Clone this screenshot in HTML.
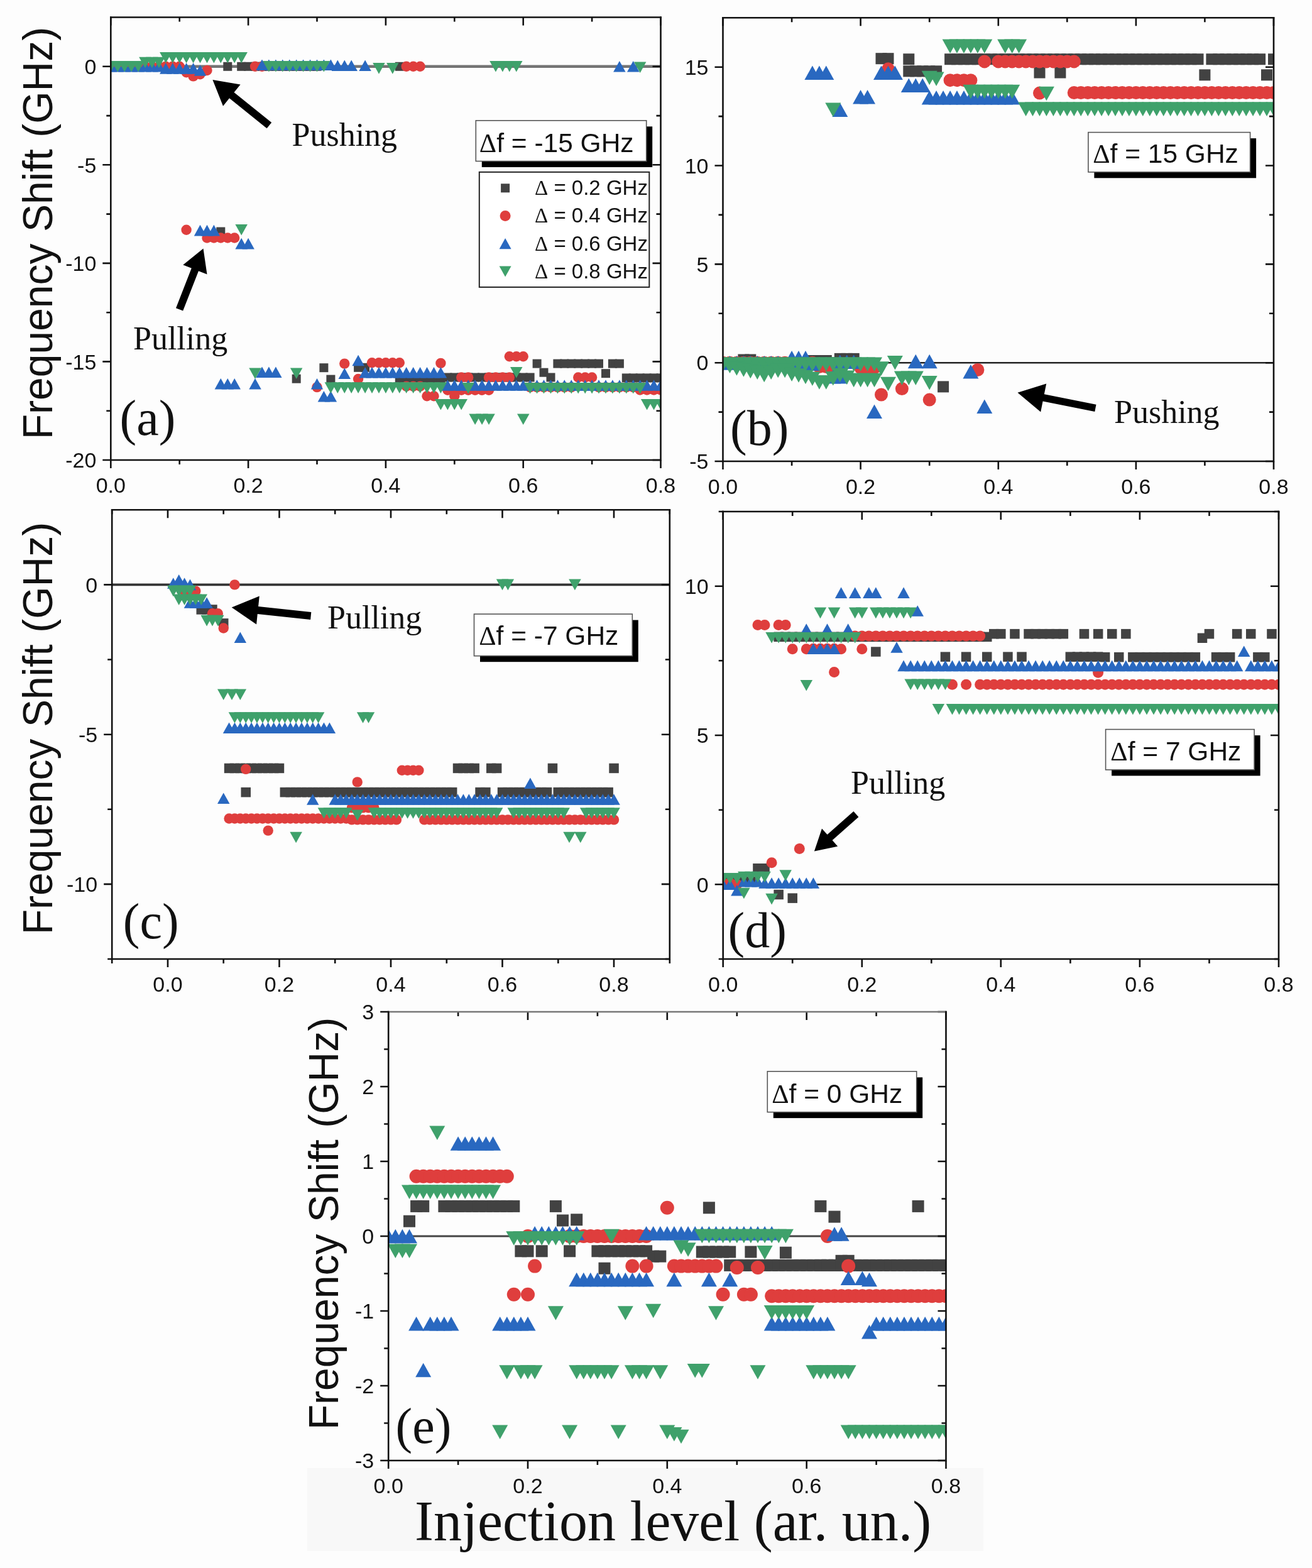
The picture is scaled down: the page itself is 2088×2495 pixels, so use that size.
<!DOCTYPE html>
<html><head><meta charset="utf-8"><style>
html,body{margin:0;padding:0;background:#fff;}
body{width:2088px;height:2495px;overflow:hidden;}
svg{display:block;}
text{font-family:'Liberation Sans', Arial, sans-serif;fill:#111;}
</style></head><body>
<svg width="2088" height="2495" viewBox="0 0 2088 2495">
<rect width="2088" height="2495" fill="#fdfdfd"/>
<g>
<line x1="176.3" y1="105.8" x2="1051.5" y2="105.8" stroke="#747474" stroke-width="4.5"/>
<clipPath id="cp1"><rect x="176.3" y="27.5" width="875.2" height="704.5"/></clipPath>
<g clip-path="url(#cp1)">
<rect x="355.3" y="98.8" width="14" height="14" fill="#424242"/>
<rect x="377.2" y="98.8" width="14" height="14" fill="#424242"/>
<rect x="388.1" y="98.8" width="14" height="14" fill="#424242"/>
<rect x="399" y="98.8" width="14" height="14" fill="#424242"/>
<rect x="410" y="98.8" width="14" height="14" fill="#424242"/>
<rect x="420.9" y="98.8" width="14" height="14" fill="#424242"/>
<rect x="431.9" y="98.8" width="14" height="14" fill="#424242"/>
<rect x="442.8" y="98.8" width="14" height="14" fill="#424242"/>
<rect x="453.7" y="98.8" width="14" height="14" fill="#424242"/>
<rect x="464.7" y="98.8" width="14" height="14" fill="#424242"/>
<rect x="475.6" y="98.8" width="14" height="14" fill="#424242"/>
<rect x="486.6" y="98.8" width="14" height="14" fill="#424242"/>
<rect x="497.5" y="98.8" width="14" height="14" fill="#424242"/>
<rect x="628.8" y="98.8" width="14" height="14" fill="#424242"/>
<rect x="344.3" y="361.5" width="14" height="14" fill="#424242"/>
<rect x="464.7" y="595.7" width="14" height="14" fill="#424242"/>
<rect x="508.4" y="578.2" width="14" height="14" fill="#424242"/>
<rect x="519.4" y="596.6" width="14" height="14" fill="#424242"/>
<rect x="563.1" y="577.8" width="14" height="14" fill="#424242"/>
<rect x="574.1" y="577.8" width="14" height="14" fill="#424242"/>
<rect x="628.8" y="598.5" width="14" height="14" fill="#424242"/>
<rect x="639.7" y="598.5" width="14" height="14" fill="#424242"/>
<rect x="650.7" y="598.5" width="14" height="14" fill="#424242"/>
<rect x="661.6" y="598.5" width="14" height="14" fill="#424242"/>
<rect x="672.5" y="598.5" width="14" height="14" fill="#424242"/>
<rect x="683.5" y="598.5" width="14" height="14" fill="#424242"/>
<rect x="694.4" y="598.5" width="14" height="14" fill="#424242"/>
<rect x="705.4" y="593.5" width="14" height="14" fill="#424242"/>
<rect x="716.3" y="593.5" width="14" height="14" fill="#424242"/>
<rect x="727.2" y="593.5" width="14" height="14" fill="#424242"/>
<rect x="738.2" y="593.5" width="14" height="14" fill="#424242"/>
<rect x="749.1" y="593.5" width="14" height="14" fill="#424242"/>
<rect x="760.1" y="593.5" width="14" height="14" fill="#424242"/>
<rect x="771" y="593.5" width="14" height="14" fill="#424242"/>
<rect x="781.9" y="593.5" width="14" height="14" fill="#424242"/>
<rect x="792.9" y="593.5" width="14" height="14" fill="#424242"/>
<rect x="803.8" y="593.5" width="14" height="14" fill="#424242"/>
<rect x="814.8" y="593.5" width="14" height="14" fill="#424242"/>
<rect x="825.7" y="593.5" width="14" height="14" fill="#424242"/>
<rect x="836.6" y="593.5" width="14" height="14" fill="#424242"/>
<rect x="847.6" y="571.6" width="14" height="14" fill="#424242"/>
<rect x="858.5" y="585.7" width="14" height="14" fill="#424242"/>
<rect x="869.5" y="593.5" width="14" height="14" fill="#424242"/>
<rect x="880.4" y="571.6" width="14" height="14" fill="#424242"/>
<rect x="891.3" y="571.6" width="14" height="14" fill="#424242"/>
<rect x="902.3" y="571.6" width="14" height="14" fill="#424242"/>
<rect x="913.2" y="571.6" width="14" height="14" fill="#424242"/>
<rect x="924.2" y="571.6" width="14" height="14" fill="#424242"/>
<rect x="935.1" y="571.6" width="14" height="14" fill="#424242"/>
<rect x="946" y="571.6" width="14" height="14" fill="#424242"/>
<rect x="957" y="587.2" width="14" height="14" fill="#424242"/>
<rect x="967.9" y="571.6" width="14" height="14" fill="#424242"/>
<rect x="978.9" y="571.6" width="14" height="14" fill="#424242"/>
<rect x="989.8" y="594.4" width="14" height="14" fill="#424242"/>
<rect x="1000.7" y="594.4" width="14" height="14" fill="#424242"/>
<rect x="1011.7" y="594.4" width="14" height="14" fill="#424242"/>
<rect x="1022.6" y="594.4" width="14" height="14" fill="#424242"/>
<rect x="1033.6" y="594.4" width="14" height="14" fill="#424242"/>
<rect x="1044.5" y="594.4" width="14" height="14" fill="#424242"/>
<circle cx="176.3" cy="105.8" r="8.2" fill="#df3e3d"/>
<circle cx="187.2" cy="105.8" r="8.2" fill="#df3e3d"/>
<circle cx="198.2" cy="105.8" r="8.2" fill="#df3e3d"/>
<circle cx="209.1" cy="105.8" r="8.2" fill="#df3e3d"/>
<circle cx="220.1" cy="105.8" r="8.2" fill="#df3e3d"/>
<circle cx="231" cy="105.8" r="8.2" fill="#df3e3d"/>
<circle cx="241.9" cy="105.8" r="8.2" fill="#df3e3d"/>
<circle cx="252.9" cy="105.8" r="8.2" fill="#df3e3d"/>
<circle cx="263.8" cy="105.8" r="8.2" fill="#df3e3d"/>
<circle cx="274.8" cy="105.8" r="8.2" fill="#df3e3d"/>
<circle cx="285.7" cy="105.8" r="8.2" fill="#df3e3d"/>
<circle cx="296.6" cy="115.2" r="8.2" fill="#df3e3d"/>
<circle cx="307.6" cy="121.4" r="8.2" fill="#df3e3d"/>
<circle cx="318.5" cy="118.3" r="8.2" fill="#df3e3d"/>
<circle cx="329.5" cy="112" r="8.2" fill="#df3e3d"/>
<circle cx="406" cy="105.8" r="8.2" fill="#df3e3d"/>
<circle cx="417" cy="105.8" r="8.2" fill="#df3e3d"/>
<circle cx="646.7" cy="105.8" r="8.2" fill="#df3e3d"/>
<circle cx="657.7" cy="105.8" r="8.2" fill="#df3e3d"/>
<circle cx="668.6" cy="105.8" r="8.2" fill="#df3e3d"/>
<circle cx="296.6" cy="365.7" r="8.2" fill="#df3e3d"/>
<circle cx="329.5" cy="378.5" r="8.2" fill="#df3e3d"/>
<circle cx="340.4" cy="378.5" r="8.2" fill="#df3e3d"/>
<circle cx="351.3" cy="378.5" r="8.2" fill="#df3e3d"/>
<circle cx="362.3" cy="378.5" r="8.2" fill="#df3e3d"/>
<circle cx="373.2" cy="378.5" r="8.2" fill="#df3e3d"/>
<circle cx="504.5" cy="616.1" r="8.2" fill="#df3e3d"/>
<circle cx="548.3" cy="578.6" r="8.2" fill="#df3e3d"/>
<circle cx="570.1" cy="603" r="8.2" fill="#df3e3d"/>
<circle cx="592" cy="577.3" r="8.2" fill="#df3e3d"/>
<circle cx="603" cy="577.3" r="8.2" fill="#df3e3d"/>
<circle cx="613.9" cy="577.3" r="8.2" fill="#df3e3d"/>
<circle cx="624.8" cy="577.3" r="8.2" fill="#df3e3d"/>
<circle cx="635.8" cy="577.3" r="8.2" fill="#df3e3d"/>
<circle cx="646.7" cy="614.6" r="8.2" fill="#df3e3d"/>
<circle cx="657.7" cy="614.6" r="8.2" fill="#df3e3d"/>
<circle cx="668.6" cy="614.6" r="8.2" fill="#df3e3d"/>
<circle cx="679.5" cy="630.2" r="8.2" fill="#df3e3d"/>
<circle cx="690.5" cy="630.2" r="8.2" fill="#df3e3d"/>
<circle cx="701.4" cy="577.9" r="8.2" fill="#df3e3d"/>
<circle cx="712.4" cy="620.8" r="8.2" fill="#df3e3d"/>
<circle cx="723.3" cy="620.8" r="8.2" fill="#df3e3d"/>
<circle cx="734.2" cy="620.8" r="8.2" fill="#df3e3d"/>
<circle cx="745.2" cy="620.8" r="8.2" fill="#df3e3d"/>
<circle cx="756.1" cy="620.8" r="8.2" fill="#df3e3d"/>
<circle cx="767.1" cy="620.8" r="8.2" fill="#df3e3d"/>
<circle cx="778" cy="620.8" r="8.2" fill="#df3e3d"/>
<circle cx="723.3" cy="630.2" r="8.2" fill="#df3e3d"/>
<circle cx="734.2" cy="600.5" r="8.2" fill="#df3e3d"/>
<circle cx="745.2" cy="600.5" r="8.2" fill="#df3e3d"/>
<circle cx="778" cy="600.5" r="8.2" fill="#df3e3d"/>
<circle cx="788.9" cy="600.5" r="8.2" fill="#df3e3d"/>
<circle cx="799.9" cy="600.5" r="8.2" fill="#df3e3d"/>
<circle cx="810.8" cy="600.5" r="8.2" fill="#df3e3d"/>
<circle cx="810.8" cy="567.3" r="8.2" fill="#df3e3d"/>
<circle cx="821.8" cy="567.3" r="8.2" fill="#df3e3d"/>
<circle cx="832.7" cy="567.3" r="8.2" fill="#df3e3d"/>
<circle cx="843.6" cy="616.1" r="8.2" fill="#df3e3d"/>
<circle cx="854.6" cy="616.1" r="8.2" fill="#df3e3d"/>
<circle cx="865.5" cy="616.1" r="8.2" fill="#df3e3d"/>
<circle cx="876.5" cy="616.1" r="8.2" fill="#df3e3d"/>
<circle cx="887.4" cy="616.1" r="8.2" fill="#df3e3d"/>
<circle cx="898.3" cy="616.1" r="8.2" fill="#df3e3d"/>
<circle cx="909.3" cy="616.1" r="8.2" fill="#df3e3d"/>
<circle cx="920.2" cy="600.5" r="8.2" fill="#df3e3d"/>
<circle cx="931.2" cy="600.5" r="8.2" fill="#df3e3d"/>
<circle cx="942.1" cy="600.5" r="8.2" fill="#df3e3d"/>
<circle cx="953" cy="616.1" r="8.2" fill="#df3e3d"/>
<circle cx="964" cy="616.1" r="8.2" fill="#df3e3d"/>
<circle cx="974.9" cy="616.1" r="8.2" fill="#df3e3d"/>
<circle cx="985.9" cy="616.1" r="8.2" fill="#df3e3d"/>
<circle cx="996.8" cy="616.1" r="8.2" fill="#df3e3d"/>
<circle cx="1007.7" cy="616.1" r="8.2" fill="#df3e3d"/>
<circle cx="1018.7" cy="620.5" r="8.2" fill="#df3e3d"/>
<circle cx="1029.6" cy="620.5" r="8.2" fill="#df3e3d"/>
<circle cx="1040.6" cy="620.5" r="8.2" fill="#df3e3d"/>
<circle cx="1051.5" cy="620.5" r="8.2" fill="#df3e3d"/>
<path d="M176.3 97L186.1 114.6L166.6 114.6Z" fill="#2968c0"/>
<path d="M187.2 97L197 114.6L177.5 114.6Z" fill="#2968c0"/>
<path d="M198.2 97L207.9 114.6L188.4 114.6Z" fill="#2968c0"/>
<path d="M209.1 97L218.9 114.6L199.4 114.6Z" fill="#2968c0"/>
<path d="M220.1 97L229.8 114.6L210.3 114.6Z" fill="#2968c0"/>
<path d="M231 97L240.8 114.6L221.2 114.6Z" fill="#2968c0"/>
<path d="M241.9 97L251.7 114.6L232.2 114.6Z" fill="#2968c0"/>
<path d="M252.9 97L262.6 114.6L243.1 114.6Z" fill="#2968c0"/>
<path d="M263.8 100.1L273.6 117.7L254.1 117.7Z" fill="#2968c0"/>
<path d="M274.8 100.1L284.5 117.7L265 117.7Z" fill="#2968c0"/>
<path d="M285.7 100.1L295.5 117.7L276 117.7Z" fill="#2968c0"/>
<path d="M296.6 100.1L306.4 117.7L286.9 117.7Z" fill="#2968c0"/>
<path d="M307.6 100.1L317.3 117.7L297.8 117.7Z" fill="#2968c0"/>
<path d="M318.5 103.3L328.3 120.8L308.8 120.8Z" fill="#2968c0"/>
<path d="M417 94.5L426.7 112L407.2 112Z" fill="#2968c0"/>
<path d="M427.9 94.5L437.7 112L418.2 112Z" fill="#2968c0"/>
<path d="M438.9 94.5L448.6 112L429.1 112Z" fill="#2968c0"/>
<path d="M449.8 94.5L459.6 112L440.1 112Z" fill="#2968c0"/>
<path d="M460.7 94.5L470.5 112L451 112Z" fill="#2968c0"/>
<path d="M471.7 94.5L481.4 112L461.9 112Z" fill="#2968c0"/>
<path d="M482.6 94.5L492.4 112L472.9 112Z" fill="#2968c0"/>
<path d="M493.6 94.5L503.3 112L483.8 112Z" fill="#2968c0"/>
<path d="M504.5 94.5L514.2 112L494.8 112Z" fill="#2968c0"/>
<path d="M515.4 94.5L525.2 112L505.7 112Z" fill="#2968c0"/>
<path d="M526.4 94.5L536.1 112L516.6 112Z" fill="#2968c0"/>
<path d="M537.3 95.4L547.1 113L527.6 113Z" fill="#2968c0"/>
<path d="M548.3 95.4L558 113L538.5 113Z" fill="#2968c0"/>
<path d="M559.2 95.4L569 113L549.5 113Z" fill="#2968c0"/>
<path d="M581.1 95.4L590.8 113L571.3 113Z" fill="#2968c0"/>
<path d="M985.9 97L995.6 114.6L976.1 114.6Z" fill="#2968c0"/>
<path d="M1007.7 97L1017.5 114.6L998 114.6Z" fill="#2968c0"/>
<path d="M318.5 357.8L328.3 375.4L308.8 375.4Z" fill="#2968c0"/>
<path d="M329.5 357.8L339.2 375.4L319.7 375.4Z" fill="#2968c0"/>
<path d="M340.4 357.8L350.1 375.4L330.6 375.4Z" fill="#2968c0"/>
<path d="M384.2 378.8L393.9 396.4L374.4 396.4Z" fill="#2968c0"/>
<path d="M395.1 378.8L404.9 396.4L385.4 396.4Z" fill="#2968c0"/>
<path d="M351.3 602.1L361.1 619.6L341.6 619.6Z" fill="#2968c0"/>
<path d="M362.3 602.1L372 619.6L352.5 619.6Z" fill="#2968c0"/>
<path d="M373.2 602.1L383 619.6L363.5 619.6Z" fill="#2968c0"/>
<path d="M406 602.1L415.8 619.6L396.3 619.6Z" fill="#2968c0"/>
<path d="M417 583.6L426.7 601.1L407.2 601.1Z" fill="#2968c0"/>
<path d="M427.9 583.6L437.7 601.1L418.2 601.1Z" fill="#2968c0"/>
<path d="M438.9 583.6L448.6 601.1L429.1 601.1Z" fill="#2968c0"/>
<path d="M504.5 602.1L514.2 619.6L494.8 619.6Z" fill="#2968c0"/>
<path d="M515.4 622.1L525.2 639.6L505.7 639.6Z" fill="#2968c0"/>
<path d="M526.4 622.1L536.1 639.6L516.6 639.6Z" fill="#2968c0"/>
<path d="M548.3 585.5L558 603L538.5 603Z" fill="#2968c0"/>
<path d="M570.1 564.8L579.9 582.3L560.4 582.3Z" fill="#2968c0"/>
<path d="M581.1 583.9L590.8 601.4L571.3 601.4Z" fill="#2968c0"/>
<path d="M592 583.9L601.8 601.4L582.3 601.4Z" fill="#2968c0"/>
<path d="M603 583.9L612.7 601.4L593.2 601.4Z" fill="#2968c0"/>
<path d="M613.9 583.9L623.7 601.4L604.2 601.4Z" fill="#2968c0"/>
<path d="M624.8 583.9L634.6 601.4L615.1 601.4Z" fill="#2968c0"/>
<path d="M635.8 583.9L645.5 601.4L626 601.4Z" fill="#2968c0"/>
<path d="M646.7 583.9L656.5 601.4L637 601.4Z" fill="#2968c0"/>
<path d="M657.7 583.9L667.4 601.4L647.9 601.4Z" fill="#2968c0"/>
<path d="M668.6 583.9L678.4 601.4L658.9 601.4Z" fill="#2968c0"/>
<path d="M679.5 583.9L689.3 601.4L669.8 601.4Z" fill="#2968c0"/>
<path d="M690.5 583.9L700.2 601.4L680.7 601.4Z" fill="#2968c0"/>
<path d="M701.4 583.9L711.2 601.4L691.7 601.4Z" fill="#2968c0"/>
<path d="M712.4 604.2L722.1 621.8L702.6 621.8Z" fill="#2968c0"/>
<path d="M723.3 604.2L733 621.8L713.5 621.8Z" fill="#2968c0"/>
<path d="M734.2 604.2L744 621.8L724.5 621.8Z" fill="#2968c0"/>
<path d="M745.2 604.2L754.9 621.8L735.4 621.8Z" fill="#2968c0"/>
<path d="M756.1 604.2L765.9 621.8L746.4 621.8Z" fill="#2968c0"/>
<path d="M767.1 604.2L776.8 621.8L757.3 621.8Z" fill="#2968c0"/>
<path d="M778 604.2L787.8 621.8L768.2 621.8Z" fill="#2968c0"/>
<path d="M788.9 604.2L798.7 621.8L779.2 621.8Z" fill="#2968c0"/>
<path d="M799.9 604.2L809.6 621.8L790.1 621.8Z" fill="#2968c0"/>
<path d="M810.8 604.2L820.6 621.8L801.1 621.8Z" fill="#2968c0"/>
<path d="M821.8 604.2L831.5 621.8L812 621.8Z" fill="#2968c0"/>
<path d="M832.7 604.2L842.5 621.8L823 621.8Z" fill="#2968c0"/>
<path d="M843.6 604.2L853.4 621.8L833.9 621.8Z" fill="#2968c0"/>
<path d="M854.6 604.2L864.3 621.8L844.8 621.8Z" fill="#2968c0"/>
<path d="M865.5 604.2L875.3 621.8L855.8 621.8Z" fill="#2968c0"/>
<path d="M876.5 604.2L886.2 621.8L866.7 621.8Z" fill="#2968c0"/>
<path d="M887.4 604.2L897.2 621.8L877.7 621.8Z" fill="#2968c0"/>
<path d="M898.3 604.2L908.1 621.8L888.6 621.8Z" fill="#2968c0"/>
<path d="M909.3 604.2L919 621.8L899.5 621.8Z" fill="#2968c0"/>
<path d="M920.2 604.2L930 621.8L910.5 621.8Z" fill="#2968c0"/>
<path d="M931.2 604.2L940.9 621.8L921.4 621.8Z" fill="#2968c0"/>
<path d="M942.1 604.2L951.8 621.8L932.3 621.8Z" fill="#2968c0"/>
<path d="M953 604.2L962.8 621.8L943.3 621.8Z" fill="#2968c0"/>
<path d="M964 604.2L973.7 621.8L954.2 621.8Z" fill="#2968c0"/>
<path d="M974.9 604.2L984.7 621.8L965.2 621.8Z" fill="#2968c0"/>
<path d="M985.9 604.2L995.6 621.8L976.1 621.8Z" fill="#2968c0"/>
<path d="M996.8 604.2L1006.5 621.8L987 621.8Z" fill="#2968c0"/>
<path d="M1007.7 604.2L1017.5 621.8L998 621.8Z" fill="#2968c0"/>
<path d="M1018.7 604.2L1028.4 621.8L1008.9 621.8Z" fill="#2968c0"/>
<path d="M1029.6 604.2L1039.4 621.8L1019.9 621.8Z" fill="#2968c0"/>
<path d="M1040.6 604.2L1050.3 621.8L1030.8 621.8Z" fill="#2968c0"/>
<path d="M1051.5 604.2L1061.2 621.8L1041.8 621.8Z" fill="#2968c0"/>
<path d="M166.6 97L186.1 97L176.3 114.6Z" fill="#3fa16b"/>
<path d="M177.5 97L197 97L187.2 114.6Z" fill="#3fa16b"/>
<path d="M188.4 97L207.9 97L198.2 114.6Z" fill="#3fa16b"/>
<path d="M199.4 97L218.9 97L209.1 114.6Z" fill="#3fa16b"/>
<path d="M210.3 97L229.8 97L220.1 114.6Z" fill="#3fa16b"/>
<path d="M221.2 90.7L240.8 90.7L231 108.3Z" fill="#3fa16b"/>
<path d="M232.2 90.7L251.7 90.7L241.9 108.3Z" fill="#3fa16b"/>
<path d="M243.1 90.7L262.6 90.7L252.9 108.3Z" fill="#3fa16b"/>
<path d="M254.1 82.9L273.6 82.9L263.8 100.5Z" fill="#3fa16b"/>
<path d="M265 82.9L284.5 82.9L274.8 100.5Z" fill="#3fa16b"/>
<path d="M276 82.9L295.5 82.9L285.7 100.5Z" fill="#3fa16b"/>
<path d="M286.9 82.9L306.4 82.9L296.6 100.5Z" fill="#3fa16b"/>
<path d="M297.8 82.9L317.3 82.9L307.6 100.5Z" fill="#3fa16b"/>
<path d="M308.8 82.9L328.3 82.9L318.5 100.5Z" fill="#3fa16b"/>
<path d="M319.7 82.9L339.2 82.9L329.5 100.5Z" fill="#3fa16b"/>
<path d="M330.6 82.9L350.1 82.9L340.4 100.5Z" fill="#3fa16b"/>
<path d="M341.6 82.9L361.1 82.9L351.3 100.5Z" fill="#3fa16b"/>
<path d="M352.5 82.9L372 82.9L362.3 100.5Z" fill="#3fa16b"/>
<path d="M363.5 82.9L383 82.9L373.2 100.5Z" fill="#3fa16b"/>
<path d="M374.4 82.9L393.9 82.9L384.2 100.5Z" fill="#3fa16b"/>
<path d="M418.2 97L437.7 97L427.9 114.6Z" fill="#3fa16b"/>
<path d="M429.1 97L448.6 97L438.9 114.6Z" fill="#3fa16b"/>
<path d="M440.1 97L459.6 97L449.8 114.6Z" fill="#3fa16b"/>
<path d="M451 97L470.5 97L460.7 114.6Z" fill="#3fa16b"/>
<path d="M461.9 97L481.4 97L471.7 114.6Z" fill="#3fa16b"/>
<path d="M472.9 97L492.4 97L482.6 114.6Z" fill="#3fa16b"/>
<path d="M483.8 97L503.3 97L493.6 114.6Z" fill="#3fa16b"/>
<path d="M494.8 97L514.2 97L504.5 114.6Z" fill="#3fa16b"/>
<path d="M505.7 97L525.2 97L515.4 114.6Z" fill="#3fa16b"/>
<path d="M593.2 100.1L612.7 100.1L603 117.7Z" fill="#3fa16b"/>
<path d="M615.1 100.1L634.6 100.1L624.8 117.7Z" fill="#3fa16b"/>
<path d="M779.2 97L798.7 97L788.9 114.6Z" fill="#3fa16b"/>
<path d="M790.1 97L809.6 97L799.9 114.6Z" fill="#3fa16b"/>
<path d="M801.1 97L820.6 97L810.8 114.6Z" fill="#3fa16b"/>
<path d="M812 97L831.5 97L821.8 114.6Z" fill="#3fa16b"/>
<path d="M1008.9 98.6L1028.4 98.6L1018.7 116.1Z" fill="#3fa16b"/>
<path d="M374.4 356.9L393.9 356.9L384.2 374.4Z" fill="#3fa16b"/>
<path d="M396.3 585.5L415.8 585.5L406 603Z" fill="#3fa16b"/>
<path d="M461.9 585.5L481.4 585.5L471.7 603Z" fill="#3fa16b"/>
<path d="M516.6 608.3L536.1 608.3L526.4 625.9Z" fill="#3fa16b"/>
<path d="M527.6 608.3L547.1 608.3L537.3 625.9Z" fill="#3fa16b"/>
<path d="M538.5 608.3L558 608.3L548.3 625.9Z" fill="#3fa16b"/>
<path d="M549.5 608.3L569 608.3L559.2 625.9Z" fill="#3fa16b"/>
<path d="M560.4 608.3L579.9 608.3L570.1 625.9Z" fill="#3fa16b"/>
<path d="M571.3 608.3L590.8 608.3L581.1 625.9Z" fill="#3fa16b"/>
<path d="M582.3 608.3L601.8 608.3L592 625.9Z" fill="#3fa16b"/>
<path d="M593.2 608.3L612.7 608.3L603 625.9Z" fill="#3fa16b"/>
<path d="M604.2 608.3L623.7 608.3L613.9 625.9Z" fill="#3fa16b"/>
<path d="M615.1 608.3L634.6 608.3L624.8 625.9Z" fill="#3fa16b"/>
<path d="M626 608.3L645.5 608.3L635.8 625.9Z" fill="#3fa16b"/>
<path d="M637 608.3L656.5 608.3L646.7 625.9Z" fill="#3fa16b"/>
<path d="M647.9 608.3L667.4 608.3L657.7 625.9Z" fill="#3fa16b"/>
<path d="M658.9 608.3L678.4 608.3L668.6 625.9Z" fill="#3fa16b"/>
<path d="M669.8 608.3L689.3 608.3L679.5 625.9Z" fill="#3fa16b"/>
<path d="M680.7 608.3L700.2 608.3L690.5 625.9Z" fill="#3fa16b"/>
<path d="M691.7 608.3L711.2 608.3L701.4 625.9Z" fill="#3fa16b"/>
<path d="M691.7 634.9L711.2 634.9L701.4 652.5Z" fill="#3fa16b"/>
<path d="M702.6 634.9L722.1 634.9L712.4 652.5Z" fill="#3fa16b"/>
<path d="M713.5 634.9L733 634.9L723.3 652.5Z" fill="#3fa16b"/>
<path d="M724.5 634.9L744 634.9L734.2 652.5Z" fill="#3fa16b"/>
<path d="M735.4 608.9L754.9 608.9L745.2 626.5Z" fill="#3fa16b"/>
<path d="M746.4 658.4L765.9 658.4L756.1 676Z" fill="#3fa16b"/>
<path d="M757.3 658.4L776.8 658.4L767.1 676Z" fill="#3fa16b"/>
<path d="M768.2 658.4L787.8 658.4L778 676Z" fill="#3fa16b"/>
<path d="M812 583.9L831.5 583.9L821.8 601.4Z" fill="#3fa16b"/>
<path d="M823 658.4L842.5 658.4L832.7 676Z" fill="#3fa16b"/>
<path d="M833.9 608.9L853.4 608.9L843.6 626.5Z" fill="#3fa16b"/>
<path d="M844.8 608.9L864.3 608.9L854.6 626.5Z" fill="#3fa16b"/>
<path d="M855.8 608.9L875.3 608.9L865.5 626.5Z" fill="#3fa16b"/>
<path d="M866.7 608.9L886.2 608.9L876.5 626.5Z" fill="#3fa16b"/>
<path d="M877.7 608.9L897.2 608.9L887.4 626.5Z" fill="#3fa16b"/>
<path d="M888.6 608.9L908.1 608.9L898.3 626.5Z" fill="#3fa16b"/>
<path d="M899.5 608.9L919 608.9L909.3 626.5Z" fill="#3fa16b"/>
<path d="M910.5 608.9L930 608.9L920.2 626.5Z" fill="#3fa16b"/>
<path d="M921.4 608.9L940.9 608.9L931.2 626.5Z" fill="#3fa16b"/>
<path d="M932.3 608.9L951.8 608.9L942.1 626.5Z" fill="#3fa16b"/>
<path d="M943.3 608.9L962.8 608.9L953 626.5Z" fill="#3fa16b"/>
<path d="M954.2 608.9L973.7 608.9L964 626.5Z" fill="#3fa16b"/>
<path d="M965.2 608.9L984.7 608.9L974.9 626.5Z" fill="#3fa16b"/>
<path d="M976.1 608.9L995.6 608.9L985.9 626.5Z" fill="#3fa16b"/>
<path d="M987 608.9L1006.5 608.9L996.8 626.5Z" fill="#3fa16b"/>
<path d="M998 608.9L1017.5 608.9L1007.7 626.5Z" fill="#3fa16b"/>
<path d="M1008.9 608.9L1028.4 608.9L1018.7 626.5Z" fill="#3fa16b"/>
<path d="M1019.9 634.9L1039.4 634.9L1029.6 652.5Z" fill="#3fa16b"/>
<path d="M1030.8 634.9L1050.3 634.9L1040.6 652.5Z" fill="#3fa16b"/>
<path d="M1041.8 634.9L1061.2 634.9L1051.5 652.5Z" fill="#3fa16b"/>
</g>
<path d="M176.3 732v13M176.3 27.5v13M395.1 732v13M395.1 27.5v13M613.9 732v13M613.9 27.5v13M832.7 732v13M832.7 27.5v13M1051.5 732v13M1051.5 27.5v13M285.7 732v7M285.7 27.5v7M504.5 732v7M504.5 27.5v7M723.3 732v7M723.3 27.5v7M942.1 732v7M942.1 27.5v7M176.3 732h-13M1051.5 732h-13M176.3 575.4h-13M1051.5 575.4h-13M176.3 418.9h-13M1051.5 418.9h-13M176.3 262.3h-13M1051.5 262.3h-13M176.3 105.8h-13M1051.5 105.8h-13M176.3 653.7h-7M1051.5 653.7h-7M176.3 497.2h-7M1051.5 497.2h-7M176.3 340.6h-7M1051.5 340.6h-7M176.3 184.1h-7M1051.5 184.1h-7" stroke="#111" stroke-width="2.6" fill="none"/>
<path d="M176.3 27.5H1051.5" stroke="#111" stroke-width="2.6" fill="none" stroke-linecap="square"/>
<path d="M176.3 27.5V732H1051.5V27.5" stroke="#111" stroke-width="2.6" fill="none" stroke-linecap="square"/>
<text x="176.3" y="784" text-anchor="middle" font-size="34">0.0</text>
<text x="395.1" y="784" text-anchor="middle" font-size="34">0.2</text>
<text x="613.9" y="784" text-anchor="middle" font-size="34">0.4</text>
<text x="832.7" y="784" text-anchor="middle" font-size="34">0.6</text>
<text x="1051.5" y="784" text-anchor="middle" font-size="34">0.8</text>
<text x="153.3" y="117.9" text-anchor="end" font-size="34">0</text>
<text x="153.3" y="274.5" text-anchor="end" font-size="34">-5</text>
<text x="153.3" y="431.1" text-anchor="end" font-size="34">-10</text>
<text x="153.3" y="587.6" text-anchor="end" font-size="34">-15</text>
<text x="153.3" y="744.2" text-anchor="end" font-size="34">-20</text>
<text transform="translate(82.5 371) rotate(-90)" text-anchor="middle" font-size="66">Frequency Shift (GHz)</text>
<rect x="766.8" y="201.3" width="271.4" height="64.7" fill="#000"/>
<rect x="757.3" y="191.8" width="271.4" height="64.7" fill="#fff" stroke="#555" stroke-width="1.6"/>
<text x="762.8" y="242" font-size="42.5"><tspan style="font-family:'Liberation Serif', 'Times New Roman', serif">Δ</tspan>f = -15 GHz</text>
<rect x="762.8" y="273.8" width="270.5" height="183.1" fill="#fff" stroke="#222" stroke-width="2"/>
<rect x="797.1" y="292.3" width="14" height="14" fill="#424242"/>
<text x="851" y="310.3" font-size="33"><tspan style="font-family:'Liberation Serif', 'Times New Roman', serif">Δ</tspan> = 0.2 GHz</text>
<circle cx="804.1" cy="343.4" r="8.5" fill="#df3e3d"/>
<text x="851" y="354.4" font-size="33"><tspan style="font-family:'Liberation Serif', 'Times New Roman', serif">Δ</tspan> = 0.4 GHz</text>
<path d="M804.1 379.1L813.6 396.2L794.6 396.2Z" fill="#2968c0"/>
<text x="851" y="398.6" font-size="33"><tspan style="font-family:'Liberation Serif', 'Times New Roman', serif">Δ</tspan> = 0.6 GHz</text>
<path d="M794.6 423.4L813.6 423.4L804.1 440.6Z" fill="#3fa16b"/>
<text x="851" y="443" font-size="33"><tspan style="font-family:'Liberation Serif', 'Times New Roman', serif">Δ</tspan> = 0.8 GHz</text>
<path d="M338.4 127.1L355 168.7L365 156.2L424.6 204.3L432.2 194.9L372.5 146.9L382.6 134.4Z" fill="#000"/>
<path d="M323.5 395.5L291.3 421.6L304.8 426.8L280 490.2L291.2 494.6L316 431.2L329.5 436.5Z" fill="#000"/>
<text x="464.5" y="231.6" font-size="52" style="font-family:'Liberation Serif', 'Times New Roman', serif">Pushing</text>
<text x="212" y="555.9" font-size="52" style="font-family:'Liberation Serif', 'Times New Roman', serif">Pulling</text>
<text x="190.5" y="692" font-size="80" style="font-family:'Liberation Serif', 'Times New Roman', serif">(a)</text>
</g>
<line x1="1150.5" y1="577.2" x2="2027" y2="577.2" stroke="#222" stroke-width="2.6"/>
<clipPath id="cp2"><rect x="1150.5" y="28.3" width="876.5" height="705.7"/></clipPath>
<g clip-path="url(#cp2)">
<rect x="1141.5" y="568.2" width="18" height="18" fill="#424242"/>
<rect x="1152.5" y="568.2" width="18" height="18" fill="#424242"/>
<rect x="1163.4" y="568.2" width="18" height="18" fill="#424242"/>
<rect x="1174.4" y="568.2" width="18" height="18" fill="#424242"/>
<rect x="1185.3" y="568.2" width="18" height="18" fill="#424242"/>
<rect x="1196.3" y="568.2" width="18" height="18" fill="#424242"/>
<rect x="1207.2" y="568.2" width="18" height="18" fill="#424242"/>
<rect x="1218.2" y="568.2" width="18" height="18" fill="#424242"/>
<rect x="1229.2" y="568.2" width="18" height="18" fill="#424242"/>
<rect x="1240.1" y="568.2" width="18" height="18" fill="#424242"/>
<rect x="1251.1" y="568.2" width="18" height="18" fill="#424242"/>
<rect x="1262" y="568.2" width="18" height="18" fill="#424242"/>
<rect x="1273" y="568.2" width="18" height="18" fill="#424242"/>
<rect x="1174.4" y="563.5" width="18" height="18" fill="#424242"/>
<rect x="1185.3" y="563.5" width="18" height="18" fill="#424242"/>
<rect x="1283.9" y="565" width="18" height="18" fill="#424242"/>
<rect x="1294.9" y="565" width="18" height="18" fill="#424242"/>
<rect x="1305.8" y="565" width="18" height="18" fill="#424242"/>
<rect x="1305.8" y="568.2" width="18" height="18" fill="#424242"/>
<rect x="1316.8" y="568.2" width="18" height="18" fill="#424242"/>
<rect x="1327.8" y="568.2" width="18" height="18" fill="#424242"/>
<rect x="1327.8" y="561.9" width="18" height="18" fill="#424242"/>
<rect x="1338.7" y="561.9" width="18" height="18" fill="#424242"/>
<rect x="1349.7" y="561.9" width="18" height="18" fill="#424242"/>
<rect x="1492.1" y="606.4" width="18" height="18" fill="#424242"/>
<rect x="1393.5" y="84.2" width="18" height="18" fill="#424242"/>
<rect x="1404.5" y="84.2" width="18" height="18" fill="#424242"/>
<rect x="1437.3" y="85.2" width="18" height="18" fill="#424242"/>
<rect x="1437.3" y="104.3" width="18" height="18" fill="#424242"/>
<rect x="1448.3" y="104.3" width="18" height="18" fill="#424242"/>
<rect x="1459.2" y="104.3" width="18" height="18" fill="#424242"/>
<rect x="1470.2" y="104.3" width="18" height="18" fill="#424242"/>
<rect x="1481.1" y="104.3" width="18" height="18" fill="#424242"/>
<rect x="1503.1" y="85.2" width="18" height="18" fill="#424242"/>
<rect x="1514" y="85.2" width="18" height="18" fill="#424242"/>
<rect x="1525" y="85.2" width="18" height="18" fill="#424242"/>
<rect x="1535.9" y="85.2" width="18" height="18" fill="#424242"/>
<rect x="1546.9" y="85.2" width="18" height="18" fill="#424242"/>
<rect x="1557.8" y="85.2" width="18" height="18" fill="#424242"/>
<rect x="1568.8" y="85.2" width="18" height="18" fill="#424242"/>
<rect x="1579.8" y="85.2" width="18" height="18" fill="#424242"/>
<rect x="1590.7" y="85.2" width="18" height="18" fill="#424242"/>
<rect x="1601.7" y="85.2" width="18" height="18" fill="#424242"/>
<rect x="1612.6" y="85.2" width="18" height="18" fill="#424242"/>
<rect x="1623.6" y="85.2" width="18" height="18" fill="#424242"/>
<rect x="1634.5" y="85.2" width="18" height="18" fill="#424242"/>
<rect x="1645.5" y="85.2" width="18" height="18" fill="#424242"/>
<rect x="1656.4" y="85.2" width="18" height="18" fill="#424242"/>
<rect x="1667.4" y="85.2" width="18" height="18" fill="#424242"/>
<rect x="1678.4" y="85.2" width="18" height="18" fill="#424242"/>
<rect x="1689.3" y="85.2" width="18" height="18" fill="#424242"/>
<rect x="1700.3" y="85.2" width="18" height="18" fill="#424242"/>
<rect x="1711.2" y="85.2" width="18" height="18" fill="#424242"/>
<rect x="1722.2" y="85.2" width="18" height="18" fill="#424242"/>
<rect x="1733.1" y="85.2" width="18" height="18" fill="#424242"/>
<rect x="1744.1" y="85.2" width="18" height="18" fill="#424242"/>
<rect x="1755.1" y="85.2" width="18" height="18" fill="#424242"/>
<rect x="1766" y="85.2" width="18" height="18" fill="#424242"/>
<rect x="1777" y="85.2" width="18" height="18" fill="#424242"/>
<rect x="1787.9" y="85.2" width="18" height="18" fill="#424242"/>
<rect x="1798.9" y="85.2" width="18" height="18" fill="#424242"/>
<rect x="1809.8" y="85.2" width="18" height="18" fill="#424242"/>
<rect x="1820.8" y="85.2" width="18" height="18" fill="#424242"/>
<rect x="1831.7" y="85.2" width="18" height="18" fill="#424242"/>
<rect x="1842.7" y="85.2" width="18" height="18" fill="#424242"/>
<rect x="1853.7" y="85.2" width="18" height="18" fill="#424242"/>
<rect x="1864.6" y="85.2" width="18" height="18" fill="#424242"/>
<rect x="1875.6" y="85.2" width="18" height="18" fill="#424242"/>
<rect x="1886.5" y="85.2" width="18" height="18" fill="#424242"/>
<rect x="1897.5" y="85.2" width="18" height="18" fill="#424242"/>
<rect x="1919.4" y="85.2" width="18" height="18" fill="#424242"/>
<rect x="1930.3" y="85.2" width="18" height="18" fill="#424242"/>
<rect x="1941.3" y="85.2" width="18" height="18" fill="#424242"/>
<rect x="1952.3" y="85.2" width="18" height="18" fill="#424242"/>
<rect x="1963.2" y="85.2" width="18" height="18" fill="#424242"/>
<rect x="1974.2" y="85.2" width="18" height="18" fill="#424242"/>
<rect x="1985.1" y="85.2" width="18" height="18" fill="#424242"/>
<rect x="1996.1" y="85.2" width="18" height="18" fill="#424242"/>
<rect x="2018" y="85.2" width="18" height="18" fill="#424242"/>
<rect x="1645.5" y="106.5" width="18" height="18" fill="#424242"/>
<rect x="1678.4" y="106.5" width="18" height="18" fill="#424242"/>
<rect x="1908.4" y="110.3" width="18" height="18" fill="#424242"/>
<rect x="2007" y="110.3" width="18" height="18" fill="#424242"/>
<circle cx="1150.5" cy="577.2" r="10.5" fill="#df3e3d"/>
<circle cx="1161.5" cy="577.2" r="10.5" fill="#df3e3d"/>
<circle cx="1172.4" cy="577.2" r="10.5" fill="#df3e3d"/>
<circle cx="1183.4" cy="577.2" r="10.5" fill="#df3e3d"/>
<circle cx="1194.3" cy="577.2" r="10.5" fill="#df3e3d"/>
<circle cx="1205.3" cy="577.2" r="10.5" fill="#df3e3d"/>
<circle cx="1216.2" cy="577.2" r="10.5" fill="#df3e3d"/>
<circle cx="1227.2" cy="577.2" r="10.5" fill="#df3e3d"/>
<circle cx="1238.2" cy="577.2" r="10.5" fill="#df3e3d"/>
<circle cx="1249.1" cy="577.2" r="10.5" fill="#df3e3d"/>
<circle cx="1260.1" cy="577.2" r="10.5" fill="#df3e3d"/>
<circle cx="1271" cy="577.2" r="10.5" fill="#df3e3d"/>
<circle cx="1282" cy="577.2" r="10.5" fill="#df3e3d"/>
<circle cx="1292.9" cy="577.2" r="10.5" fill="#df3e3d"/>
<circle cx="1303.9" cy="583.5" r="10.5" fill="#df3e3d"/>
<circle cx="1314.8" cy="583.5" r="10.5" fill="#df3e3d"/>
<circle cx="1325.8" cy="583.5" r="10.5" fill="#df3e3d"/>
<circle cx="1369.6" cy="585" r="10.5" fill="#df3e3d"/>
<circle cx="1380.6" cy="585" r="10.5" fill="#df3e3d"/>
<circle cx="1391.5" cy="585" r="10.5" fill="#df3e3d"/>
<circle cx="1402.5" cy="628" r="10.5" fill="#df3e3d"/>
<circle cx="1435.4" cy="618.6" r="10.5" fill="#df3e3d"/>
<circle cx="1479.2" cy="636.1" r="10.5" fill="#df3e3d"/>
<circle cx="1555.9" cy="588.5" r="10.5" fill="#df3e3d"/>
<circle cx="1413.5" cy="109.8" r="10.5" fill="#df3e3d"/>
<circle cx="1512.1" cy="127.7" r="10.5" fill="#df3e3d"/>
<circle cx="1523" cy="127.7" r="10.5" fill="#df3e3d"/>
<circle cx="1534" cy="127.7" r="10.5" fill="#df3e3d"/>
<circle cx="1544.9" cy="127.7" r="10.5" fill="#df3e3d"/>
<circle cx="1566.8" cy="97.9" r="10.5" fill="#df3e3d"/>
<circle cx="1588.8" cy="97.9" r="10.5" fill="#df3e3d"/>
<circle cx="1599.7" cy="97.9" r="10.5" fill="#df3e3d"/>
<circle cx="1610.7" cy="97.9" r="10.5" fill="#df3e3d"/>
<circle cx="1621.6" cy="97.9" r="10.5" fill="#df3e3d"/>
<circle cx="1632.6" cy="97.9" r="10.5" fill="#df3e3d"/>
<circle cx="1643.5" cy="97.9" r="10.5" fill="#df3e3d"/>
<circle cx="1654.5" cy="97.9" r="10.5" fill="#df3e3d"/>
<circle cx="1665.4" cy="97.9" r="10.5" fill="#df3e3d"/>
<circle cx="1676.4" cy="97.9" r="10.5" fill="#df3e3d"/>
<circle cx="1687.4" cy="97.9" r="10.5" fill="#df3e3d"/>
<circle cx="1698.3" cy="97.9" r="10.5" fill="#df3e3d"/>
<circle cx="1709.3" cy="97.9" r="10.5" fill="#df3e3d"/>
<circle cx="1654.5" cy="148.1" r="10.5" fill="#df3e3d"/>
<circle cx="1709.3" cy="147.5" r="10.5" fill="#df3e3d"/>
<circle cx="1720.2" cy="147.5" r="10.5" fill="#df3e3d"/>
<circle cx="1731.2" cy="147.5" r="10.5" fill="#df3e3d"/>
<circle cx="1742.1" cy="147.5" r="10.5" fill="#df3e3d"/>
<circle cx="1753.1" cy="147.5" r="10.5" fill="#df3e3d"/>
<circle cx="1764.1" cy="147.5" r="10.5" fill="#df3e3d"/>
<circle cx="1775" cy="147.5" r="10.5" fill="#df3e3d"/>
<circle cx="1786" cy="147.5" r="10.5" fill="#df3e3d"/>
<circle cx="1796.9" cy="147.5" r="10.5" fill="#df3e3d"/>
<circle cx="1807.9" cy="147.5" r="10.5" fill="#df3e3d"/>
<circle cx="1818.8" cy="147.5" r="10.5" fill="#df3e3d"/>
<circle cx="1829.8" cy="147.5" r="10.5" fill="#df3e3d"/>
<circle cx="1840.7" cy="147.5" r="10.5" fill="#df3e3d"/>
<circle cx="1851.7" cy="147.5" r="10.5" fill="#df3e3d"/>
<circle cx="1862.7" cy="147.5" r="10.5" fill="#df3e3d"/>
<circle cx="1873.6" cy="147.5" r="10.5" fill="#df3e3d"/>
<circle cx="1884.6" cy="147.5" r="10.5" fill="#df3e3d"/>
<circle cx="1895.5" cy="147.5" r="10.5" fill="#df3e3d"/>
<circle cx="1906.5" cy="147.5" r="10.5" fill="#df3e3d"/>
<circle cx="1917.4" cy="147.5" r="10.5" fill="#df3e3d"/>
<circle cx="1928.4" cy="147.5" r="10.5" fill="#df3e3d"/>
<circle cx="1939.3" cy="147.5" r="10.5" fill="#df3e3d"/>
<circle cx="1950.3" cy="147.5" r="10.5" fill="#df3e3d"/>
<circle cx="1961.3" cy="147.5" r="10.5" fill="#df3e3d"/>
<circle cx="1972.2" cy="147.5" r="10.5" fill="#df3e3d"/>
<circle cx="1983.2" cy="147.5" r="10.5" fill="#df3e3d"/>
<circle cx="1994.1" cy="147.5" r="10.5" fill="#df3e3d"/>
<circle cx="2005.1" cy="147.5" r="10.5" fill="#df3e3d"/>
<circle cx="2016" cy="147.5" r="10.5" fill="#df3e3d"/>
<circle cx="2027" cy="147.5" r="10.5" fill="#df3e3d"/>
<path d="M1150.5 565.9L1163 588.4L1138 588.4Z" fill="#2968c0"/>
<path d="M1161.5 565.9L1174 588.4L1149 588.4Z" fill="#2968c0"/>
<path d="M1172.4 565.9L1184.9 588.4L1159.9 588.4Z" fill="#2968c0"/>
<path d="M1183.4 565.9L1195.9 588.4L1170.9 588.4Z" fill="#2968c0"/>
<path d="M1194.3 565.9L1206.8 588.4L1181.8 588.4Z" fill="#2968c0"/>
<path d="M1205.3 565.9L1217.8 588.4L1192.8 588.4Z" fill="#2968c0"/>
<path d="M1216.2 565.9L1228.7 588.4L1203.7 588.4Z" fill="#2968c0"/>
<path d="M1227.2 565.9L1239.7 588.4L1214.7 588.4Z" fill="#2968c0"/>
<path d="M1238.2 565.9L1250.7 588.4L1225.7 588.4Z" fill="#2968c0"/>
<path d="M1249.1 567.5L1261.6 590L1236.6 590Z" fill="#2968c0"/>
<path d="M1260.1 567.5L1272.6 590L1247.6 590Z" fill="#2968c0"/>
<path d="M1271 567.5L1283.5 590L1258.5 590Z" fill="#2968c0"/>
<path d="M1282 567.5L1294.5 590L1269.5 590Z" fill="#2968c0"/>
<path d="M1292.9 567.5L1305.4 590L1280.4 590Z" fill="#2968c0"/>
<path d="M1260.1 558.1L1272.6 580.6L1247.6 580.6Z" fill="#2968c0"/>
<path d="M1271 558.1L1283.5 580.6L1258.5 580.6Z" fill="#2968c0"/>
<path d="M1282 558.1L1294.5 580.6L1269.5 580.6Z" fill="#2968c0"/>
<path d="M1336.8 564.4L1349.3 586.9L1324.3 586.9Z" fill="#2968c0"/>
<path d="M1347.7 564.4L1360.2 586.9L1335.2 586.9Z" fill="#2968c0"/>
<path d="M1358.7 564.4L1371.2 586.9L1346.2 586.9Z" fill="#2968c0"/>
<path d="M1325.8 587.9L1338.3 610.4L1313.3 610.4Z" fill="#2968c0"/>
<path d="M1336.8 587.9L1349.3 610.4L1324.3 610.4Z" fill="#2968c0"/>
<path d="M1391.5 643.4L1404 665.9L1379 665.9Z" fill="#2968c0"/>
<path d="M1457.3 563.7L1469.8 586.2L1444.8 586.2Z" fill="#2968c0"/>
<path d="M1479.2 563.7L1491.7 586.2L1466.7 586.2Z" fill="#2968c0"/>
<path d="M1544.9 580L1557.4 602.5L1532.4 602.5Z" fill="#2968c0"/>
<path d="M1566.8 635.6L1579.3 658.1L1554.3 658.1Z" fill="#2968c0"/>
<path d="M1292.9 104.6L1305.4 127.1L1280.4 127.1Z" fill="#2968c0"/>
<path d="M1303.9 104.6L1316.4 127.1L1291.4 127.1Z" fill="#2968c0"/>
<path d="M1314.8 104.6L1327.3 127.1L1302.3 127.1Z" fill="#2968c0"/>
<path d="M1336.8 163.5L1349.3 186L1324.3 186Z" fill="#2968c0"/>
<path d="M1369.6 143.1L1382.1 165.6L1357.1 165.6Z" fill="#2968c0"/>
<path d="M1380.6 143.1L1393.1 165.6L1368.1 165.6Z" fill="#2968c0"/>
<path d="M1402.5 104.6L1415 127.1L1390 127.1Z" fill="#2968c0"/>
<path d="M1413.5 104.6L1426 127.1L1401 127.1Z" fill="#2968c0"/>
<path d="M1424.4 104.6L1436.9 127.1L1411.9 127.1Z" fill="#2968c0"/>
<path d="M1446.3 124.6L1458.8 147.1L1433.8 147.1Z" fill="#2968c0"/>
<path d="M1457.3 124.6L1469.8 147.1L1444.8 147.1Z" fill="#2968c0"/>
<path d="M1468.2 124.6L1480.7 147.1L1455.7 147.1Z" fill="#2968c0"/>
<path d="M1479.2 144.1L1491.7 166.6L1466.7 166.6Z" fill="#2968c0"/>
<path d="M1490.1 144.1L1502.6 166.6L1477.6 166.6Z" fill="#2968c0"/>
<path d="M1501.1 144.1L1513.6 166.6L1488.6 166.6Z" fill="#2968c0"/>
<path d="M1512.1 144.1L1524.6 166.6L1499.6 166.6Z" fill="#2968c0"/>
<path d="M1523 144.1L1535.5 166.6L1510.5 166.6Z" fill="#2968c0"/>
<path d="M1534 144.1L1546.5 166.6L1521.5 166.6Z" fill="#2968c0"/>
<path d="M1544.9 144.1L1557.4 166.6L1532.4 166.6Z" fill="#2968c0"/>
<path d="M1555.9 144.1L1568.4 166.6L1543.4 166.6Z" fill="#2968c0"/>
<path d="M1566.8 144.1L1579.3 166.6L1554.3 166.6Z" fill="#2968c0"/>
<path d="M1577.8 144.1L1590.3 166.6L1565.3 166.6Z" fill="#2968c0"/>
<path d="M1588.8 144.1L1601.2 166.6L1576.2 166.6Z" fill="#2968c0"/>
<path d="M1599.7 144.1L1612.2 166.6L1587.2 166.6Z" fill="#2968c0"/>
<path d="M1610.7 144.1L1623.2 166.6L1598.2 166.6Z" fill="#2968c0"/>
<path d="M1138 568.4L1163 568.4L1150.5 590.9Z" fill="#3fa16b"/>
<path d="M1149 568.4L1174 568.4L1161.5 590.9Z" fill="#3fa16b"/>
<path d="M1159.9 568.4L1184.9 568.4L1172.4 590.9Z" fill="#3fa16b"/>
<path d="M1170.9 568.4L1195.9 568.4L1183.4 590.9Z" fill="#3fa16b"/>
<path d="M1181.8 568.4L1206.8 568.4L1194.3 590.9Z" fill="#3fa16b"/>
<path d="M1192.8 568.4L1217.8 568.4L1205.3 590.9Z" fill="#3fa16b"/>
<path d="M1203.7 568.4L1228.7 568.4L1216.2 590.9Z" fill="#3fa16b"/>
<path d="M1214.7 568.4L1239.7 568.4L1227.2 590.9Z" fill="#3fa16b"/>
<path d="M1225.7 568.4L1250.7 568.4L1238.2 590.9Z" fill="#3fa16b"/>
<path d="M1236.6 568.4L1261.6 568.4L1249.1 590.9Z" fill="#3fa16b"/>
<path d="M1247.6 568.4L1272.6 568.4L1260.1 590.9Z" fill="#3fa16b"/>
<path d="M1258.5 568.4L1283.5 568.4L1271 590.9Z" fill="#3fa16b"/>
<path d="M1269.5 568.4L1294.5 568.4L1282 590.9Z" fill="#3fa16b"/>
<path d="M1280.4 568.4L1305.4 568.4L1292.9 590.9Z" fill="#3fa16b"/>
<path d="M1291.4 568.4L1316.4 568.4L1303.9 590.9Z" fill="#3fa16b"/>
<path d="M1302.3 568.4L1327.3 568.4L1314.8 590.9Z" fill="#3fa16b"/>
<path d="M1313.3 568.4L1338.3 568.4L1325.8 590.9Z" fill="#3fa16b"/>
<path d="M1324.3 568.4L1349.3 568.4L1336.8 590.9Z" fill="#3fa16b"/>
<path d="M1335.2 568.4L1360.2 568.4L1347.7 590.9Z" fill="#3fa16b"/>
<path d="M1346.2 568.4L1371.2 568.4L1358.7 590.9Z" fill="#3fa16b"/>
<path d="M1357.1 568.4L1382.1 568.4L1369.6 590.9Z" fill="#3fa16b"/>
<path d="M1368.1 568.4L1393.1 568.4L1380.6 590.9Z" fill="#3fa16b"/>
<path d="M1379 568.4L1404 568.4L1391.5 590.9Z" fill="#3fa16b"/>
<path d="M1149 571.6L1174 571.6L1161.5 594.1Z" fill="#3fa16b"/>
<path d="M1159.9 575.3L1184.9 575.3L1172.4 597.8Z" fill="#3fa16b"/>
<path d="M1170.9 577.2L1195.9 577.2L1183.4 599.7Z" fill="#3fa16b"/>
<path d="M1181.8 579.7L1206.8 579.7L1194.3 602.2Z" fill="#3fa16b"/>
<path d="M1192.8 581.6L1217.8 581.6L1205.3 604.1Z" fill="#3fa16b"/>
<path d="M1203.7 585.7L1228.7 585.7L1216.2 608.2Z" fill="#3fa16b"/>
<path d="M1214.7 581.6L1239.7 581.6L1227.2 604.1Z" fill="#3fa16b"/>
<path d="M1225.7 578.8L1250.7 578.8L1238.2 601.3Z" fill="#3fa16b"/>
<path d="M1236.6 578.8L1261.6 578.8L1249.1 601.3Z" fill="#3fa16b"/>
<path d="M1247.6 584.4L1272.6 584.4L1260.1 606.9Z" fill="#3fa16b"/>
<path d="M1258.5 586.3L1283.5 586.3L1271 608.8Z" fill="#3fa16b"/>
<path d="M1269.5 588.8L1294.5 588.8L1282 611.3Z" fill="#3fa16b"/>
<path d="M1280.4 591.6L1305.4 591.6L1292.9 614.1Z" fill="#3fa16b"/>
<path d="M1291.4 597.3L1316.4 597.3L1303.9 619.8Z" fill="#3fa16b"/>
<path d="M1302.3 597.3L1327.3 597.3L1314.8 619.8Z" fill="#3fa16b"/>
<path d="M1313.3 591L1338.3 591L1325.8 613.5Z" fill="#3fa16b"/>
<path d="M1324.3 585.7L1349.3 585.7L1336.8 608.2Z" fill="#3fa16b"/>
<path d="M1335.2 589.5L1360.2 589.5L1347.7 612Z" fill="#3fa16b"/>
<path d="M1346.2 593.8L1371.2 593.8L1358.7 616.3Z" fill="#3fa16b"/>
<path d="M1357.1 593.8L1382.1 593.8L1369.6 616.3Z" fill="#3fa16b"/>
<path d="M1368.1 593.8L1393.1 593.8L1380.6 616.3Z" fill="#3fa16b"/>
<path d="M1379 593.8L1404 593.8L1391.5 616.3Z" fill="#3fa16b"/>
<path d="M1390 575.3L1415 575.3L1402.5 597.8Z" fill="#3fa16b"/>
<path d="M1401 599.8L1426 599.8L1413.5 622.3Z" fill="#3fa16b"/>
<path d="M1411.9 565.9L1436.9 565.9L1424.4 588.4Z" fill="#3fa16b"/>
<path d="M1422.9 590.4L1447.9 590.4L1435.4 612.9Z" fill="#3fa16b"/>
<path d="M1433.8 590.4L1458.8 590.4L1446.3 612.9Z" fill="#3fa16b"/>
<path d="M1444.8 590.4L1469.8 590.4L1457.3 612.9Z" fill="#3fa16b"/>
<path d="M1466.7 597.9L1491.7 597.9L1479.2 620.4Z" fill="#3fa16b"/>
<path d="M1313.3 163.5L1338.3 163.5L1325.8 186Z" fill="#3fa16b"/>
<path d="M1466.7 112.7L1491.7 112.7L1479.2 135.2Z" fill="#3fa16b"/>
<path d="M1477.6 114.6L1502.6 114.6L1490.1 137.1Z" fill="#3fa16b"/>
<path d="M1499.6 62.5L1524.6 62.5L1512.1 85Z" fill="#3fa16b"/>
<path d="M1510.5 62.5L1535.5 62.5L1523 85Z" fill="#3fa16b"/>
<path d="M1521.5 62.5L1546.5 62.5L1534 85Z" fill="#3fa16b"/>
<path d="M1532.4 62.5L1557.4 62.5L1544.9 85Z" fill="#3fa16b"/>
<path d="M1543.4 62.5L1568.4 62.5L1555.9 85Z" fill="#3fa16b"/>
<path d="M1554.3 62.5L1579.3 62.5L1566.8 85Z" fill="#3fa16b"/>
<path d="M1587.2 62.5L1612.2 62.5L1599.7 85Z" fill="#3fa16b"/>
<path d="M1598.2 62.5L1623.2 62.5L1610.7 85Z" fill="#3fa16b"/>
<path d="M1609.1 62.5L1634.1 62.5L1621.6 85Z" fill="#3fa16b"/>
<path d="M1532.4 134.7L1557.4 134.7L1544.9 157.2Z" fill="#3fa16b"/>
<path d="M1543.4 134.7L1568.4 134.7L1555.9 157.2Z" fill="#3fa16b"/>
<path d="M1554.3 134.7L1579.3 134.7L1566.8 157.2Z" fill="#3fa16b"/>
<path d="M1565.3 134.7L1590.3 134.7L1577.8 157.2Z" fill="#3fa16b"/>
<path d="M1576.2 134.7L1601.2 134.7L1588.8 157.2Z" fill="#3fa16b"/>
<path d="M1587.2 134.7L1612.2 134.7L1599.7 157.2Z" fill="#3fa16b"/>
<path d="M1598.2 134.7L1623.2 134.7L1610.7 157.2Z" fill="#3fa16b"/>
<path d="M1652.9 137.8L1677.9 137.8L1665.4 160.3Z" fill="#3fa16b"/>
<path d="M1620.1 162.6L1645.1 162.6L1632.6 185.1Z" fill="#3fa16b"/>
<path d="M1631 162.6L1656 162.6L1643.5 185.1Z" fill="#3fa16b"/>
<path d="M1642 162.6L1667 162.6L1654.5 185.1Z" fill="#3fa16b"/>
<path d="M1652.9 162.6L1677.9 162.6L1665.4 185.1Z" fill="#3fa16b"/>
<path d="M1663.9 162.6L1688.9 162.6L1676.4 185.1Z" fill="#3fa16b"/>
<path d="M1674.9 162.6L1699.9 162.6L1687.4 185.1Z" fill="#3fa16b"/>
<path d="M1685.8 162.6L1710.8 162.6L1698.3 185.1Z" fill="#3fa16b"/>
<path d="M1696.8 162.6L1721.8 162.6L1709.3 185.1Z" fill="#3fa16b"/>
<path d="M1707.7 162.6L1732.7 162.6L1720.2 185.1Z" fill="#3fa16b"/>
<path d="M1718.7 162.6L1743.7 162.6L1731.2 185.1Z" fill="#3fa16b"/>
<path d="M1729.6 162.6L1754.6 162.6L1742.1 185.1Z" fill="#3fa16b"/>
<path d="M1740.6 162.6L1765.6 162.6L1753.1 185.1Z" fill="#3fa16b"/>
<path d="M1751.6 162.6L1776.6 162.6L1764.1 185.1Z" fill="#3fa16b"/>
<path d="M1762.5 162.6L1787.5 162.6L1775 185.1Z" fill="#3fa16b"/>
<path d="M1773.5 162.6L1798.5 162.6L1786 185.1Z" fill="#3fa16b"/>
<path d="M1784.4 162.6L1809.4 162.6L1796.9 185.1Z" fill="#3fa16b"/>
<path d="M1795.4 162.6L1820.4 162.6L1807.9 185.1Z" fill="#3fa16b"/>
<path d="M1806.3 162.6L1831.3 162.6L1818.8 185.1Z" fill="#3fa16b"/>
<path d="M1817.3 162.6L1842.3 162.6L1829.8 185.1Z" fill="#3fa16b"/>
<path d="M1828.2 162.6L1853.2 162.6L1840.7 185.1Z" fill="#3fa16b"/>
<path d="M1839.2 162.6L1864.2 162.6L1851.7 185.1Z" fill="#3fa16b"/>
<path d="M1850.2 162.6L1875.2 162.6L1862.7 185.1Z" fill="#3fa16b"/>
<path d="M1861.1 162.6L1886.1 162.6L1873.6 185.1Z" fill="#3fa16b"/>
<path d="M1872.1 162.6L1897.1 162.6L1884.6 185.1Z" fill="#3fa16b"/>
<path d="M1883 162.6L1908 162.6L1895.5 185.1Z" fill="#3fa16b"/>
<path d="M1894 162.6L1919 162.6L1906.5 185.1Z" fill="#3fa16b"/>
<path d="M1904.9 162.6L1929.9 162.6L1917.4 185.1Z" fill="#3fa16b"/>
<path d="M1915.9 162.6L1940.9 162.6L1928.4 185.1Z" fill="#3fa16b"/>
<path d="M1926.8 162.6L1951.8 162.6L1939.3 185.1Z" fill="#3fa16b"/>
<path d="M1937.8 162.6L1962.8 162.6L1950.3 185.1Z" fill="#3fa16b"/>
<path d="M1948.8 162.6L1973.8 162.6L1961.3 185.1Z" fill="#3fa16b"/>
<path d="M1959.7 162.6L1984.7 162.6L1972.2 185.1Z" fill="#3fa16b"/>
<path d="M1970.7 162.6L1995.7 162.6L1983.2 185.1Z" fill="#3fa16b"/>
<path d="M1981.6 162.6L2006.6 162.6L1994.1 185.1Z" fill="#3fa16b"/>
<path d="M1992.6 162.6L2017.6 162.6L2005.1 185.1Z" fill="#3fa16b"/>
<path d="M2003.5 162.6L2028.5 162.6L2016 185.1Z" fill="#3fa16b"/>
<path d="M2014.5 162.6L2039.5 162.6L2027 185.1Z" fill="#3fa16b"/>
</g>
<path d="M1150.5 734v13M1150.5 28.3v13M1369.6 734v13M1369.6 28.3v13M1588.8 734v13M1588.8 28.3v13M1807.9 734v13M1807.9 28.3v13M2027 734v13M2027 28.3v13M1260.1 734v7M1260.1 28.3v7M1479.2 734v7M1479.2 28.3v7M1698.3 734v7M1698.3 28.3v7M1917.4 734v7M1917.4 28.3v7M1150.5 734h-13M2027 734h-13M1150.5 577.2h-13M2027 577.2h-13M1150.5 420.4h-13M2027 420.4h-13M1150.5 263.5h-13M2027 263.5h-13M1150.5 106.7h-13M2027 106.7h-13M1150.5 655.6h-7M2027 655.6h-7M1150.5 498.8h-7M2027 498.8h-7M1150.5 341.9h-7M2027 341.9h-7M1150.5 185.1h-7M2027 185.1h-7" stroke="#111" stroke-width="2.6" fill="none"/>
<path d="M1150.5 28.3H2027" stroke="#111" stroke-width="2.6" fill="none" stroke-linecap="square"/>
<path d="M1150.5 28.3V734H2027V28.3" stroke="#111" stroke-width="2.6" fill="none" stroke-linecap="square"/>
<text x="1150.5" y="786" text-anchor="middle" font-size="34">0.0</text>
<text x="1369.6" y="786" text-anchor="middle" font-size="34">0.2</text>
<text x="1588.8" y="786" text-anchor="middle" font-size="34">0.4</text>
<text x="1807.9" y="786" text-anchor="middle" font-size="34">0.6</text>
<text x="2027" y="786" text-anchor="middle" font-size="34">0.8</text>
<text x="1127.5" y="746.2" text-anchor="end" font-size="34">-5</text>
<text x="1127.5" y="589.3" text-anchor="end" font-size="34">0</text>
<text x="1127.5" y="432.5" text-anchor="end" font-size="34">5</text>
<text x="1127.5" y="275.7" text-anchor="end" font-size="34">10</text>
<text x="1127.5" y="118.9" text-anchor="end" font-size="34">15</text>
<rect x="1741.4" y="220.1" width="257.7" height="63.2" fill="#000"/>
<rect x="1731.9" y="210.6" width="257.7" height="63.2" fill="#fff" stroke="#555" stroke-width="1.6"/>
<text x="1739.2" y="259.2" font-size="42.5"><tspan style="font-family:'Liberation Serif', 'Times New Roman', serif">Δ</tspan>f = 15 GHz</text>
<path d="M1619.5 624.8L1656.2 655.5L1659.6 638.6L1742.3 655L1744.5 643.8L1661.8 627.3L1665.2 610.4Z" fill="#000"/>
<text x="1773" y="673" font-size="52" style="font-family:'Liberation Serif', 'Times New Roman', serif">Pushing</text>
<text x="1162" y="707.5" font-size="80" style="font-family:'Liberation Serif', 'Times New Roman', serif">(b)</text>
<line x1="178.2" y1="930.4" x2="1065.8" y2="930.4" stroke="#333" stroke-width="3.8"/>
<clipPath id="cp3"><rect x="178.2" y="811.3" width="887.6" height="714.7"/></clipPath>
<g clip-path="url(#cp3)">
<rect x="312.5" y="962.2" width="15.5" height="15.5" fill="#424242"/>
<rect x="321.3" y="962.2" width="15.5" height="15.5" fill="#424242"/>
<rect x="330.2" y="962.2" width="15.5" height="15.5" fill="#424242"/>
<rect x="348" y="984.1" width="15.5" height="15.5" fill="#424242"/>
<rect x="356.8" y="1214.7" width="15.5" height="15.5" fill="#424242"/>
<rect x="365.7" y="1214.7" width="15.5" height="15.5" fill="#424242"/>
<rect x="374.6" y="1214.7" width="15.5" height="15.5" fill="#424242"/>
<rect x="383.5" y="1214.7" width="15.5" height="15.5" fill="#424242"/>
<rect x="392.3" y="1214.7" width="15.5" height="15.5" fill="#424242"/>
<rect x="401.2" y="1214.7" width="15.5" height="15.5" fill="#424242"/>
<rect x="410.1" y="1214.7" width="15.5" height="15.5" fill="#424242"/>
<rect x="419" y="1214.7" width="15.5" height="15.5" fill="#424242"/>
<rect x="427.9" y="1214.7" width="15.5" height="15.5" fill="#424242"/>
<rect x="436.7" y="1214.7" width="15.5" height="15.5" fill="#424242"/>
<rect x="383.5" y="1252.9" width="15.5" height="15.5" fill="#424242"/>
<rect x="445.6" y="1252.9" width="15.5" height="15.5" fill="#424242"/>
<rect x="454.5" y="1252.9" width="15.5" height="15.5" fill="#424242"/>
<rect x="463.4" y="1252.9" width="15.5" height="15.5" fill="#424242"/>
<rect x="472.2" y="1252.9" width="15.5" height="15.5" fill="#424242"/>
<rect x="481.1" y="1252.9" width="15.5" height="15.5" fill="#424242"/>
<rect x="490" y="1252.9" width="15.5" height="15.5" fill="#424242"/>
<rect x="498.9" y="1252.9" width="15.5" height="15.5" fill="#424242"/>
<rect x="507.7" y="1252.9" width="15.5" height="15.5" fill="#424242"/>
<rect x="516.6" y="1252.9" width="15.5" height="15.5" fill="#424242"/>
<rect x="525.5" y="1252.9" width="15.5" height="15.5" fill="#424242"/>
<rect x="534.4" y="1252.9" width="15.5" height="15.5" fill="#424242"/>
<rect x="543.2" y="1252.9" width="15.5" height="15.5" fill="#424242"/>
<rect x="552.1" y="1252.9" width="15.5" height="15.5" fill="#424242"/>
<rect x="561" y="1252.9" width="15.5" height="15.5" fill="#424242"/>
<rect x="569.9" y="1252.9" width="15.5" height="15.5" fill="#424242"/>
<rect x="578.7" y="1252.9" width="15.5" height="15.5" fill="#424242"/>
<rect x="587.6" y="1252.9" width="15.5" height="15.5" fill="#424242"/>
<rect x="596.5" y="1252.9" width="15.5" height="15.5" fill="#424242"/>
<rect x="605.4" y="1252.9" width="15.5" height="15.5" fill="#424242"/>
<rect x="614.2" y="1252.9" width="15.5" height="15.5" fill="#424242"/>
<rect x="623.1" y="1252.9" width="15.5" height="15.5" fill="#424242"/>
<rect x="632" y="1252.9" width="15.5" height="15.5" fill="#424242"/>
<rect x="640.9" y="1252.9" width="15.5" height="15.5" fill="#424242"/>
<rect x="649.8" y="1252.9" width="15.5" height="15.5" fill="#424242"/>
<rect x="658.6" y="1252.9" width="15.5" height="15.5" fill="#424242"/>
<rect x="667.5" y="1252.9" width="15.5" height="15.5" fill="#424242"/>
<rect x="676.4" y="1252.9" width="15.5" height="15.5" fill="#424242"/>
<rect x="685.3" y="1252.9" width="15.5" height="15.5" fill="#424242"/>
<rect x="694.1" y="1252.9" width="15.5" height="15.5" fill="#424242"/>
<rect x="703" y="1252.9" width="15.5" height="15.5" fill="#424242"/>
<rect x="711.9" y="1252.9" width="15.5" height="15.5" fill="#424242"/>
<rect x="720.8" y="1214.7" width="15.5" height="15.5" fill="#424242"/>
<rect x="729.6" y="1214.7" width="15.5" height="15.5" fill="#424242"/>
<rect x="738.5" y="1214.7" width="15.5" height="15.5" fill="#424242"/>
<rect x="747.4" y="1214.7" width="15.5" height="15.5" fill="#424242"/>
<rect x="756.3" y="1252.9" width="15.5" height="15.5" fill="#424242"/>
<rect x="765.1" y="1252.9" width="15.5" height="15.5" fill="#424242"/>
<rect x="774" y="1214.7" width="15.5" height="15.5" fill="#424242"/>
<rect x="782.9" y="1214.7" width="15.5" height="15.5" fill="#424242"/>
<rect x="791.8" y="1252.9" width="15.5" height="15.5" fill="#424242"/>
<rect x="800.6" y="1252.9" width="15.5" height="15.5" fill="#424242"/>
<rect x="809.5" y="1252.9" width="15.5" height="15.5" fill="#424242"/>
<rect x="818.4" y="1252.9" width="15.5" height="15.5" fill="#424242"/>
<rect x="827.3" y="1252.9" width="15.5" height="15.5" fill="#424242"/>
<rect x="836.1" y="1252.9" width="15.5" height="15.5" fill="#424242"/>
<rect x="845" y="1252.9" width="15.5" height="15.5" fill="#424242"/>
<rect x="853.9" y="1252.9" width="15.5" height="15.5" fill="#424242"/>
<rect x="862.8" y="1252.9" width="15.5" height="15.5" fill="#424242"/>
<rect x="871.7" y="1214.7" width="15.5" height="15.5" fill="#424242"/>
<rect x="880.5" y="1252.9" width="15.5" height="15.5" fill="#424242"/>
<rect x="889.4" y="1252.9" width="15.5" height="15.5" fill="#424242"/>
<rect x="898.3" y="1252.9" width="15.5" height="15.5" fill="#424242"/>
<rect x="907.2" y="1252.9" width="15.5" height="15.5" fill="#424242"/>
<rect x="916" y="1252.9" width="15.5" height="15.5" fill="#424242"/>
<rect x="924.9" y="1252.9" width="15.5" height="15.5" fill="#424242"/>
<rect x="933.8" y="1252.9" width="15.5" height="15.5" fill="#424242"/>
<rect x="942.7" y="1252.9" width="15.5" height="15.5" fill="#424242"/>
<rect x="951.5" y="1252.9" width="15.5" height="15.5" fill="#424242"/>
<rect x="960.4" y="1252.9" width="15.5" height="15.5" fill="#424242"/>
<rect x="969.3" y="1214.7" width="15.5" height="15.5" fill="#424242"/>
<circle cx="293.6" cy="940.4" r="8.2" fill="#df3e3d"/>
<circle cx="302.5" cy="940.4" r="8.2" fill="#df3e3d"/>
<circle cx="311.3" cy="940.4" r="8.2" fill="#df3e3d"/>
<circle cx="338" cy="976.2" r="8.2" fill="#df3e3d"/>
<circle cx="346.8" cy="976.2" r="8.2" fill="#df3e3d"/>
<circle cx="355.7" cy="999.5" r="8.2" fill="#df3e3d"/>
<circle cx="373.5" cy="930.4" r="8.2" fill="#df3e3d"/>
<circle cx="391.2" cy="1223.9" r="8.2" fill="#df3e3d"/>
<circle cx="364.6" cy="1302.5" r="8.2" fill="#df3e3d"/>
<circle cx="373.5" cy="1302.5" r="8.2" fill="#df3e3d"/>
<circle cx="382.3" cy="1302.5" r="8.2" fill="#df3e3d"/>
<circle cx="391.2" cy="1302.5" r="8.2" fill="#df3e3d"/>
<circle cx="400.1" cy="1302.5" r="8.2" fill="#df3e3d"/>
<circle cx="409" cy="1302.5" r="8.2" fill="#df3e3d"/>
<circle cx="417.9" cy="1302.5" r="8.2" fill="#df3e3d"/>
<circle cx="426.7" cy="1302.5" r="8.2" fill="#df3e3d"/>
<circle cx="435.6" cy="1302.5" r="8.2" fill="#df3e3d"/>
<circle cx="444.5" cy="1302.5" r="8.2" fill="#df3e3d"/>
<circle cx="453.4" cy="1302.5" r="8.2" fill="#df3e3d"/>
<circle cx="462.2" cy="1302.5" r="8.2" fill="#df3e3d"/>
<circle cx="471.1" cy="1302.5" r="8.2" fill="#df3e3d"/>
<circle cx="480" cy="1302.5" r="8.2" fill="#df3e3d"/>
<circle cx="488.9" cy="1302.5" r="8.2" fill="#df3e3d"/>
<circle cx="497.7" cy="1302.5" r="8.2" fill="#df3e3d"/>
<circle cx="506.6" cy="1302.5" r="8.2" fill="#df3e3d"/>
<circle cx="515.5" cy="1302.5" r="8.2" fill="#df3e3d"/>
<circle cx="524.4" cy="1302.5" r="8.2" fill="#df3e3d"/>
<circle cx="533.2" cy="1302.5" r="8.2" fill="#df3e3d"/>
<circle cx="542.1" cy="1302.5" r="8.2" fill="#df3e3d"/>
<circle cx="551" cy="1302.5" r="8.2" fill="#df3e3d"/>
<circle cx="426.7" cy="1321.6" r="8.2" fill="#df3e3d"/>
<circle cx="568.7" cy="1244.4" r="8.2" fill="#df3e3d"/>
<circle cx="559.9" cy="1285.4" r="8.2" fill="#df3e3d"/>
<circle cx="568.7" cy="1285.4" r="8.2" fill="#df3e3d"/>
<circle cx="577.6" cy="1285.4" r="8.2" fill="#df3e3d"/>
<circle cx="586.5" cy="1285.4" r="8.2" fill="#df3e3d"/>
<circle cx="595.4" cy="1285.4" r="8.2" fill="#df3e3d"/>
<circle cx="559.9" cy="1304.4" r="8.2" fill="#df3e3d"/>
<circle cx="568.7" cy="1304.4" r="8.2" fill="#df3e3d"/>
<circle cx="577.6" cy="1304.4" r="8.2" fill="#df3e3d"/>
<circle cx="586.5" cy="1304.4" r="8.2" fill="#df3e3d"/>
<circle cx="595.4" cy="1304.4" r="8.2" fill="#df3e3d"/>
<circle cx="604.2" cy="1304.4" r="8.2" fill="#df3e3d"/>
<circle cx="613.1" cy="1304.4" r="8.2" fill="#df3e3d"/>
<circle cx="622" cy="1304.4" r="8.2" fill="#df3e3d"/>
<circle cx="630.9" cy="1304.4" r="8.2" fill="#df3e3d"/>
<circle cx="639.8" cy="1225.8" r="8.2" fill="#df3e3d"/>
<circle cx="648.6" cy="1225.8" r="8.2" fill="#df3e3d"/>
<circle cx="657.5" cy="1225.8" r="8.2" fill="#df3e3d"/>
<circle cx="666.4" cy="1225.8" r="8.2" fill="#df3e3d"/>
<circle cx="675.3" cy="1304.4" r="8.2" fill="#df3e3d"/>
<circle cx="684.1" cy="1304.4" r="8.2" fill="#df3e3d"/>
<circle cx="693" cy="1304.4" r="8.2" fill="#df3e3d"/>
<circle cx="701.9" cy="1304.4" r="8.2" fill="#df3e3d"/>
<circle cx="710.8" cy="1304.4" r="8.2" fill="#df3e3d"/>
<circle cx="719.6" cy="1304.4" r="8.2" fill="#df3e3d"/>
<circle cx="728.5" cy="1304.4" r="8.2" fill="#df3e3d"/>
<circle cx="737.4" cy="1304.4" r="8.2" fill="#df3e3d"/>
<circle cx="746.3" cy="1304.4" r="8.2" fill="#df3e3d"/>
<circle cx="755.1" cy="1304.4" r="8.2" fill="#df3e3d"/>
<circle cx="764" cy="1304.4" r="8.2" fill="#df3e3d"/>
<circle cx="772.9" cy="1304.4" r="8.2" fill="#df3e3d"/>
<circle cx="781.8" cy="1304.4" r="8.2" fill="#df3e3d"/>
<circle cx="790.6" cy="1304.4" r="8.2" fill="#df3e3d"/>
<circle cx="799.5" cy="1304.4" r="8.2" fill="#df3e3d"/>
<circle cx="808.4" cy="1304.4" r="8.2" fill="#df3e3d"/>
<circle cx="817.3" cy="1304.4" r="8.2" fill="#df3e3d"/>
<circle cx="826.1" cy="1304.4" r="8.2" fill="#df3e3d"/>
<circle cx="835" cy="1304.4" r="8.2" fill="#df3e3d"/>
<circle cx="843.9" cy="1304.4" r="8.2" fill="#df3e3d"/>
<circle cx="852.8" cy="1304.4" r="8.2" fill="#df3e3d"/>
<circle cx="861.7" cy="1304.4" r="8.2" fill="#df3e3d"/>
<circle cx="870.5" cy="1304.4" r="8.2" fill="#df3e3d"/>
<circle cx="879.4" cy="1304.4" r="8.2" fill="#df3e3d"/>
<circle cx="888.3" cy="1304.4" r="8.2" fill="#df3e3d"/>
<circle cx="897.2" cy="1304.4" r="8.2" fill="#df3e3d"/>
<circle cx="906" cy="1304.4" r="8.2" fill="#df3e3d"/>
<circle cx="914.9" cy="1304.4" r="8.2" fill="#df3e3d"/>
<circle cx="923.8" cy="1304.4" r="8.2" fill="#df3e3d"/>
<circle cx="932.7" cy="1304.4" r="8.2" fill="#df3e3d"/>
<circle cx="941.5" cy="1304.4" r="8.2" fill="#df3e3d"/>
<circle cx="950.4" cy="1304.4" r="8.2" fill="#df3e3d"/>
<circle cx="959.3" cy="1304.4" r="8.2" fill="#df3e3d"/>
<circle cx="968.2" cy="1304.4" r="8.2" fill="#df3e3d"/>
<circle cx="977" cy="1304.4" r="8.2" fill="#df3e3d"/>
<path d="M275.8 919.3L285.6 936.8L266.1 936.8Z" fill="#2968c0"/>
<path d="M284.7 914L294.5 931.6L275 931.6Z" fill="#2968c0"/>
<path d="M293.6 919.3L303.3 936.8L283.8 936.8Z" fill="#2968c0"/>
<path d="M302.5 921.6L312.2 939.2L292.7 939.2Z" fill="#2968c0"/>
<path d="M302.5 950.2L312.2 967.8L292.7 967.8Z" fill="#2968c0"/>
<path d="M311.3 950.2L321.1 967.8L301.6 967.8Z" fill="#2968c0"/>
<path d="M320.2 950.2L330 967.8L310.5 967.8Z" fill="#2968c0"/>
<path d="M329.1 950.2L338.8 967.8L319.3 967.8Z" fill="#2968c0"/>
<path d="M382.3 1005.5L392.1 1023L372.6 1023Z" fill="#2968c0"/>
<path d="M364.6 1149.4L374.3 1166.9L354.8 1166.9Z" fill="#2968c0"/>
<path d="M373.5 1149.4L383.2 1166.9L363.7 1166.9Z" fill="#2968c0"/>
<path d="M382.3 1149.4L392.1 1166.9L372.6 1166.9Z" fill="#2968c0"/>
<path d="M391.2 1149.4L401 1166.9L381.5 1166.9Z" fill="#2968c0"/>
<path d="M400.1 1149.4L409.8 1166.9L390.3 1166.9Z" fill="#2968c0"/>
<path d="M409 1149.4L418.7 1166.9L399.2 1166.9Z" fill="#2968c0"/>
<path d="M417.9 1149.4L427.6 1166.9L408.1 1166.9Z" fill="#2968c0"/>
<path d="M426.7 1149.4L436.5 1166.9L417 1166.9Z" fill="#2968c0"/>
<path d="M435.6 1149.4L445.4 1166.9L425.9 1166.9Z" fill="#2968c0"/>
<path d="M444.5 1149.4L454.2 1166.9L434.7 1166.9Z" fill="#2968c0"/>
<path d="M453.4 1149.4L463.1 1166.9L443.6 1166.9Z" fill="#2968c0"/>
<path d="M462.2 1149.4L472 1166.9L452.5 1166.9Z" fill="#2968c0"/>
<path d="M471.1 1149.4L480.9 1166.9L461.4 1166.9Z" fill="#2968c0"/>
<path d="M480 1149.4L489.7 1166.9L470.2 1166.9Z" fill="#2968c0"/>
<path d="M488.9 1149.4L498.6 1166.9L479.1 1166.9Z" fill="#2968c0"/>
<path d="M497.7 1149.4L507.5 1166.9L488 1166.9Z" fill="#2968c0"/>
<path d="M506.6 1149.4L516.4 1166.9L496.9 1166.9Z" fill="#2968c0"/>
<path d="M515.5 1149.4L525.2 1166.9L505.7 1166.9Z" fill="#2968c0"/>
<path d="M524.4 1149.4L534.1 1166.9L514.6 1166.9Z" fill="#2968c0"/>
<path d="M355.7 1261.4L365.5 1278.9L346 1278.9Z" fill="#2968c0"/>
<path d="M497.7 1263.3L507.5 1280.8L488 1280.8Z" fill="#2968c0"/>
<path d="M533.2 1263.3L543 1280.8L523.5 1280.8Z" fill="#2968c0"/>
<path d="M542.1 1263.3L551.9 1280.8L532.4 1280.8Z" fill="#2968c0"/>
<path d="M551 1263.3L560.7 1280.8L541.2 1280.8Z" fill="#2968c0"/>
<path d="M559.9 1263.3L569.6 1280.8L550.1 1280.8Z" fill="#2968c0"/>
<path d="M568.7 1263.3L578.5 1280.8L559 1280.8Z" fill="#2968c0"/>
<path d="M577.6 1263.3L587.4 1280.8L567.9 1280.8Z" fill="#2968c0"/>
<path d="M586.5 1263.3L596.2 1280.8L576.7 1280.8Z" fill="#2968c0"/>
<path d="M595.4 1263.3L605.1 1280.8L585.6 1280.8Z" fill="#2968c0"/>
<path d="M604.2 1263.3L614 1280.8L594.5 1280.8Z" fill="#2968c0"/>
<path d="M613.1 1263.3L622.9 1280.8L603.4 1280.8Z" fill="#2968c0"/>
<path d="M622 1263.3L631.8 1280.8L612.2 1280.8Z" fill="#2968c0"/>
<path d="M630.9 1263.3L640.6 1280.8L621.1 1280.8Z" fill="#2968c0"/>
<path d="M639.8 1263.3L649.5 1280.8L630 1280.8Z" fill="#2968c0"/>
<path d="M648.6 1263.3L658.4 1280.8L638.9 1280.8Z" fill="#2968c0"/>
<path d="M657.5 1263.3L667.3 1280.8L647.8 1280.8Z" fill="#2968c0"/>
<path d="M666.4 1263.3L676.1 1280.8L656.6 1280.8Z" fill="#2968c0"/>
<path d="M675.3 1263.3L685 1280.8L665.5 1280.8Z" fill="#2968c0"/>
<path d="M684.1 1263.3L693.9 1280.8L674.4 1280.8Z" fill="#2968c0"/>
<path d="M693 1263.3L702.8 1280.8L683.3 1280.8Z" fill="#2968c0"/>
<path d="M701.9 1263.3L711.6 1280.8L692.1 1280.8Z" fill="#2968c0"/>
<path d="M710.8 1263.3L720.5 1280.8L701 1280.8Z" fill="#2968c0"/>
<path d="M719.6 1263.3L729.4 1280.8L709.9 1280.8Z" fill="#2968c0"/>
<path d="M728.5 1263.3L738.3 1280.8L718.8 1280.8Z" fill="#2968c0"/>
<path d="M737.4 1263.3L747.1 1280.8L727.6 1280.8Z" fill="#2968c0"/>
<path d="M746.3 1263.3L756 1280.8L736.5 1280.8Z" fill="#2968c0"/>
<path d="M755.1 1263.3L764.9 1280.8L745.4 1280.8Z" fill="#2968c0"/>
<path d="M764 1263.3L773.8 1280.8L754.3 1280.8Z" fill="#2968c0"/>
<path d="M772.9 1263.3L782.6 1280.8L763.1 1280.8Z" fill="#2968c0"/>
<path d="M781.8 1263.3L791.5 1280.8L772 1280.8Z" fill="#2968c0"/>
<path d="M790.6 1263.3L800.4 1280.8L780.9 1280.8Z" fill="#2968c0"/>
<path d="M799.5 1263.3L809.3 1280.8L789.8 1280.8Z" fill="#2968c0"/>
<path d="M808.4 1263.3L818.1 1280.8L798.6 1280.8Z" fill="#2968c0"/>
<path d="M817.3 1263.3L827 1280.8L807.5 1280.8Z" fill="#2968c0"/>
<path d="M826.1 1263.3L835.9 1280.8L816.4 1280.8Z" fill="#2968c0"/>
<path d="M835 1263.3L844.8 1280.8L825.3 1280.8Z" fill="#2968c0"/>
<path d="M843.9 1263.3L853.6 1280.8L834.1 1280.8Z" fill="#2968c0"/>
<path d="M852.8 1263.3L862.5 1280.8L843 1280.8Z" fill="#2968c0"/>
<path d="M861.7 1263.3L871.4 1280.8L851.9 1280.8Z" fill="#2968c0"/>
<path d="M870.5 1263.3L880.3 1280.8L860.8 1280.8Z" fill="#2968c0"/>
<path d="M879.4 1263.3L889.2 1280.8L869.7 1280.8Z" fill="#2968c0"/>
<path d="M888.3 1263.3L898 1280.8L878.5 1280.8Z" fill="#2968c0"/>
<path d="M897.2 1263.3L906.9 1280.8L887.4 1280.8Z" fill="#2968c0"/>
<path d="M906 1263.3L915.8 1280.8L896.3 1280.8Z" fill="#2968c0"/>
<path d="M914.9 1263.3L924.7 1280.8L905.2 1280.8Z" fill="#2968c0"/>
<path d="M923.8 1263.3L933.5 1280.8L914 1280.8Z" fill="#2968c0"/>
<path d="M932.7 1263.3L942.4 1280.8L922.9 1280.8Z" fill="#2968c0"/>
<path d="M941.5 1263.3L951.3 1280.8L931.8 1280.8Z" fill="#2968c0"/>
<path d="M950.4 1263.3L960.2 1280.8L940.7 1280.8Z" fill="#2968c0"/>
<path d="M959.3 1263.3L969 1280.8L949.5 1280.8Z" fill="#2968c0"/>
<path d="M968.2 1263.3L977.9 1280.8L958.4 1280.8Z" fill="#2968c0"/>
<path d="M977 1263.3L986.8 1280.8L967.3 1280.8Z" fill="#2968c0"/>
<path d="M843.9 1237.5L853.6 1255.1L834.1 1255.1Z" fill="#2968c0"/>
<path d="M266.1 931.6L285.6 931.6L275.8 949.2Z" fill="#3fa16b"/>
<path d="M275 931.6L294.5 931.6L284.7 949.2Z" fill="#3fa16b"/>
<path d="M283.8 931.6L303.3 931.6L293.6 949.2Z" fill="#3fa16b"/>
<path d="M292.7 931.6L312.2 931.6L302.5 949.2Z" fill="#3fa16b"/>
<path d="M275 945.5L294.5 945.5L284.7 963Z" fill="#3fa16b"/>
<path d="M283.8 945.5L303.3 945.5L293.6 963Z" fill="#3fa16b"/>
<path d="M292.7 945.5L312.2 945.5L302.5 963Z" fill="#3fa16b"/>
<path d="M301.6 945.5L321.1 945.5L311.3 963Z" fill="#3fa16b"/>
<path d="M310.5 945.5L330 945.5L320.2 963Z" fill="#3fa16b"/>
<path d="M319.3 978.8L338.8 978.8L329.1 996.4Z" fill="#3fa16b"/>
<path d="M328.2 978.8L347.7 978.8L338 996.4Z" fill="#3fa16b"/>
<path d="M337.1 978.8L356.6 978.8L346.8 996.4Z" fill="#3fa16b"/>
<path d="M789.8 921.6L809.3 921.6L799.5 939.2Z" fill="#3fa16b"/>
<path d="M798.6 921.6L818.1 921.6L808.4 939.2Z" fill="#3fa16b"/>
<path d="M905.2 921.6L924.7 921.6L914.9 939.2Z" fill="#3fa16b"/>
<path d="M346 1096.5L365.5 1096.5L355.7 1114.1Z" fill="#3fa16b"/>
<path d="M359.3 1096.5L378.8 1096.5L369 1114.1Z" fill="#3fa16b"/>
<path d="M372.6 1096.5L392.1 1096.5L382.3 1114.1Z" fill="#3fa16b"/>
<path d="M363.7 1133.2L383.2 1133.2L373.5 1150.7Z" fill="#3fa16b"/>
<path d="M372.6 1133.2L392.1 1133.2L382.3 1150.7Z" fill="#3fa16b"/>
<path d="M381.5 1133.2L401 1133.2L391.2 1150.7Z" fill="#3fa16b"/>
<path d="M390.3 1133.2L409.8 1133.2L400.1 1150.7Z" fill="#3fa16b"/>
<path d="M399.2 1133.2L418.7 1133.2L409 1150.7Z" fill="#3fa16b"/>
<path d="M408.1 1133.2L427.6 1133.2L417.9 1150.7Z" fill="#3fa16b"/>
<path d="M417 1133.2L436.5 1133.2L426.7 1150.7Z" fill="#3fa16b"/>
<path d="M425.9 1133.2L445.4 1133.2L435.6 1150.7Z" fill="#3fa16b"/>
<path d="M434.7 1133.2L454.2 1133.2L444.5 1150.7Z" fill="#3fa16b"/>
<path d="M443.6 1133.2L463.1 1133.2L453.4 1150.7Z" fill="#3fa16b"/>
<path d="M452.5 1133.2L472 1133.2L462.2 1150.7Z" fill="#3fa16b"/>
<path d="M461.4 1133.2L480.9 1133.2L471.1 1150.7Z" fill="#3fa16b"/>
<path d="M470.2 1133.2L489.7 1133.2L480 1150.7Z" fill="#3fa16b"/>
<path d="M479.1 1133.2L498.6 1133.2L488.9 1150.7Z" fill="#3fa16b"/>
<path d="M488 1133.2L507.5 1133.2L497.7 1150.7Z" fill="#3fa16b"/>
<path d="M496.9 1133.2L516.4 1133.2L506.6 1150.7Z" fill="#3fa16b"/>
<path d="M567.9 1133.2L587.4 1133.2L577.6 1150.7Z" fill="#3fa16b"/>
<path d="M576.7 1133.2L596.2 1133.2L586.5 1150.7Z" fill="#3fa16b"/>
<path d="M461.4 1323.8L480.9 1323.8L471.1 1341.3Z" fill="#3fa16b"/>
<path d="M505.7 1285.2L525.2 1285.2L515.5 1302.7Z" fill="#3fa16b"/>
<path d="M514.6 1285.2L534.1 1285.2L524.4 1302.7Z" fill="#3fa16b"/>
<path d="M523.5 1285.2L543 1285.2L533.2 1302.7Z" fill="#3fa16b"/>
<path d="M532.4 1285.2L551.9 1285.2L542.1 1302.7Z" fill="#3fa16b"/>
<path d="M541.2 1285.2L560.7 1285.2L551 1302.7Z" fill="#3fa16b"/>
<path d="M559 1288.5L578.5 1288.5L568.7 1306.1Z" fill="#3fa16b"/>
<path d="M585.6 1285.2L605.1 1285.2L595.4 1302.7Z" fill="#3fa16b"/>
<path d="M594.5 1285.2L614 1285.2L604.2 1302.7Z" fill="#3fa16b"/>
<path d="M603.4 1285.2L622.9 1285.2L613.1 1302.7Z" fill="#3fa16b"/>
<path d="M612.2 1285.2L631.8 1285.2L622 1302.7Z" fill="#3fa16b"/>
<path d="M621.1 1285.2L640.6 1285.2L630.9 1302.7Z" fill="#3fa16b"/>
<path d="M630 1285.2L649.5 1285.2L639.8 1302.7Z" fill="#3fa16b"/>
<path d="M638.9 1285.2L658.4 1285.2L648.6 1302.7Z" fill="#3fa16b"/>
<path d="M647.8 1285.2L667.3 1285.2L657.5 1302.7Z" fill="#3fa16b"/>
<path d="M656.6 1285.2L676.1 1285.2L666.4 1302.7Z" fill="#3fa16b"/>
<path d="M665.5 1285.2L685 1285.2L675.3 1302.7Z" fill="#3fa16b"/>
<path d="M674.4 1285.2L693.9 1285.2L684.1 1302.7Z" fill="#3fa16b"/>
<path d="M683.3 1285.2L702.8 1285.2L693 1302.7Z" fill="#3fa16b"/>
<path d="M692.1 1285.2L711.6 1285.2L701.9 1302.7Z" fill="#3fa16b"/>
<path d="M701 1285.2L720.5 1285.2L710.8 1302.7Z" fill="#3fa16b"/>
<path d="M709.9 1285.2L729.4 1285.2L719.6 1302.7Z" fill="#3fa16b"/>
<path d="M718.8 1285.2L738.3 1285.2L728.5 1302.7Z" fill="#3fa16b"/>
<path d="M727.6 1285.2L747.1 1285.2L737.4 1302.7Z" fill="#3fa16b"/>
<path d="M736.5 1285.2L756 1285.2L746.3 1302.7Z" fill="#3fa16b"/>
<path d="M745.4 1285.2L764.9 1285.2L755.1 1302.7Z" fill="#3fa16b"/>
<path d="M754.3 1285.2L773.8 1285.2L764 1302.7Z" fill="#3fa16b"/>
<path d="M763.1 1285.2L782.6 1285.2L772.9 1302.7Z" fill="#3fa16b"/>
<path d="M772 1285.2L791.5 1285.2L781.8 1302.7Z" fill="#3fa16b"/>
<path d="M780.9 1285.2L800.4 1285.2L790.6 1302.7Z" fill="#3fa16b"/>
<path d="M807.5 1285.2L827 1285.2L817.3 1302.7Z" fill="#3fa16b"/>
<path d="M816.4 1285.2L835.9 1285.2L826.1 1302.7Z" fill="#3fa16b"/>
<path d="M825.3 1285.2L844.8 1285.2L835 1302.7Z" fill="#3fa16b"/>
<path d="M834.1 1285.2L853.6 1285.2L843.9 1302.7Z" fill="#3fa16b"/>
<path d="M843 1285.2L862.5 1285.2L852.8 1302.7Z" fill="#3fa16b"/>
<path d="M851.9 1285.2L871.4 1285.2L861.7 1302.7Z" fill="#3fa16b"/>
<path d="M860.8 1285.2L880.3 1285.2L870.5 1302.7Z" fill="#3fa16b"/>
<path d="M869.7 1285.2L889.2 1285.2L879.4 1302.7Z" fill="#3fa16b"/>
<path d="M878.5 1285.2L898 1285.2L888.3 1302.7Z" fill="#3fa16b"/>
<path d="M887.4 1285.2L906.9 1285.2L897.2 1302.7Z" fill="#3fa16b"/>
<path d="M896.3 1323.8L915.8 1323.8L906 1341.3Z" fill="#3fa16b"/>
<path d="M914 1323.8L933.5 1323.8L923.8 1341.3Z" fill="#3fa16b"/>
<path d="M922.9 1285.2L942.4 1285.2L932.7 1302.7Z" fill="#3fa16b"/>
<path d="M931.8 1285.2L951.3 1285.2L941.5 1302.7Z" fill="#3fa16b"/>
<path d="M940.7 1285.2L960.2 1285.2L950.4 1302.7Z" fill="#3fa16b"/>
<path d="M949.5 1285.2L969 1285.2L959.3 1302.7Z" fill="#3fa16b"/>
<path d="M958.4 1285.2L977.9 1285.2L968.2 1302.7Z" fill="#3fa16b"/>
<path d="M967.3 1285.2L986.8 1285.2L977 1302.7Z" fill="#3fa16b"/>
</g>
<path d="M267 1526v13M267 811.3v13M444.5 1526v13M444.5 811.3v13M622 1526v13M622 811.3v13M799.5 1526v13M799.5 811.3v13M977 1526v13M977 811.3v13M178.2 1526v7M178.2 811.3v7M355.7 1526v7M355.7 811.3v7M533.2 1526v7M533.2 811.3v7M710.8 1526v7M710.8 811.3v7M888.3 1526v7M888.3 811.3v7M1065.8 1526v7M1065.8 811.3v7M178.2 1406.9h-13M1065.8 1406.9h-13M178.2 1168.7h-13M1065.8 1168.7h-13M178.2 930.4h-13M1065.8 930.4h-13M178.2 1526h-7M1065.8 1526h-7M178.2 1287.8h-7M1065.8 1287.8h-7M178.2 1049.5h-7M1065.8 1049.5h-7" stroke="#111" stroke-width="2.6" fill="none"/>
<path d="M178.2 811.3H1065.8" stroke="#111" stroke-width="2.6" fill="none" stroke-linecap="square"/>
<path d="M178.2 811.3V1526H1065.8V811.3" stroke="#111" stroke-width="2.6" fill="none" stroke-linecap="square"/>
<text x="267" y="1578" text-anchor="middle" font-size="34">0.0</text>
<text x="444.5" y="1578" text-anchor="middle" font-size="34">0.2</text>
<text x="622" y="1578" text-anchor="middle" font-size="34">0.4</text>
<text x="799.5" y="1578" text-anchor="middle" font-size="34">0.6</text>
<text x="977" y="1578" text-anchor="middle" font-size="34">0.8</text>
<text x="155.2" y="942.6" text-anchor="end" font-size="34">0</text>
<text x="155.2" y="1180.8" text-anchor="end" font-size="34">-5</text>
<text x="155.2" y="1419.1" text-anchor="end" font-size="34">-10</text>
<text transform="translate(83 1159) rotate(-90)" text-anchor="middle" font-size="66">Frequency Shift (GHz)</text>
<rect x="764" y="986.6" width="251.8" height="66.6" fill="#000"/>
<rect x="754.5" y="977.1" width="251.8" height="66.6" fill="#fff" stroke="#555" stroke-width="1.6"/>
<text x="762.2" y="1025.7" font-size="42.5"><tspan style="font-family:'Liberation Serif', 'Times New Roman', serif">Δ</tspan>f = -7 GHz</text>
<path d="M368.7 966.6L408.1 993.4L409.8 977L494.1 985.9L495.3 973.9L411.1 965L412.8 948.6Z" fill="#000"/>
<text x="521" y="1000.4" font-size="52" style="font-family:'Liberation Serif', 'Times New Roman', serif">Pulling</text>
<text x="195.8" y="1492.5" font-size="80" style="font-family:'Liberation Serif', 'Times New Roman', serif">(c)</text>
<line x1="1150.7" y1="1407.3" x2="2035" y2="1407.3" stroke="#222" stroke-width="2.8"/>
<clipPath id="cp4"><rect x="1150.7" y="814" width="884.3" height="712"/></clipPath>
<g clip-path="url(#cp4)">
<rect x="1143" y="1394.8" width="15.5" height="15.5" fill="#424242"/>
<rect x="1154" y="1394.8" width="15.5" height="15.5" fill="#424242"/>
<rect x="1165.1" y="1394.8" width="15.5" height="15.5" fill="#424242"/>
<rect x="1176.1" y="1394.8" width="15.5" height="15.5" fill="#424242"/>
<rect x="1187.2" y="1394.8" width="15.5" height="15.5" fill="#424242"/>
<rect x="1198.2" y="1374" width="15.5" height="15.5" fill="#424242"/>
<rect x="1209.3" y="1374" width="15.5" height="15.5" fill="#424242"/>
<rect x="1231.4" y="1415.7" width="15.5" height="15.5" fill="#424242"/>
<rect x="1253.5" y="1421.4" width="15.5" height="15.5" fill="#424242"/>
<rect x="1231.4" y="1005.6" width="15.5" height="15.5" fill="#424242"/>
<rect x="1242.4" y="1005.6" width="15.5" height="15.5" fill="#424242"/>
<rect x="1253.5" y="1005.6" width="15.5" height="15.5" fill="#424242"/>
<rect x="1264.5" y="1005.6" width="15.5" height="15.5" fill="#424242"/>
<rect x="1275.6" y="1005.6" width="15.5" height="15.5" fill="#424242"/>
<rect x="1286.6" y="1005.6" width="15.5" height="15.5" fill="#424242"/>
<rect x="1297.7" y="1005.6" width="15.5" height="15.5" fill="#424242"/>
<rect x="1308.8" y="1005.6" width="15.5" height="15.5" fill="#424242"/>
<rect x="1319.8" y="1005.6" width="15.5" height="15.5" fill="#424242"/>
<rect x="1330.9" y="1005.6" width="15.5" height="15.5" fill="#424242"/>
<rect x="1341.9" y="1005.6" width="15.5" height="15.5" fill="#424242"/>
<rect x="1353" y="1005.6" width="15.5" height="15.5" fill="#424242"/>
<rect x="1364" y="1005.6" width="15.5" height="15.5" fill="#424242"/>
<rect x="1375.1" y="1005.6" width="15.5" height="15.5" fill="#424242"/>
<rect x="1386.1" y="1005.6" width="15.5" height="15.5" fill="#424242"/>
<rect x="1397.2" y="1005.6" width="15.5" height="15.5" fill="#424242"/>
<rect x="1408.2" y="1005.6" width="15.5" height="15.5" fill="#424242"/>
<rect x="1419.3" y="1005.6" width="15.5" height="15.5" fill="#424242"/>
<rect x="1430.3" y="1005.6" width="15.5" height="15.5" fill="#424242"/>
<rect x="1441.4" y="1005.6" width="15.5" height="15.5" fill="#424242"/>
<rect x="1452.5" y="1005.6" width="15.5" height="15.5" fill="#424242"/>
<rect x="1463.5" y="1005.6" width="15.5" height="15.5" fill="#424242"/>
<rect x="1474.6" y="1005.6" width="15.5" height="15.5" fill="#424242"/>
<rect x="1485.6" y="1005.6" width="15.5" height="15.5" fill="#424242"/>
<rect x="1496.7" y="1005.6" width="15.5" height="15.5" fill="#424242"/>
<rect x="1507.7" y="1005.6" width="15.5" height="15.5" fill="#424242"/>
<rect x="1518.8" y="1005.6" width="15.5" height="15.5" fill="#424242"/>
<rect x="1529.8" y="1005.6" width="15.5" height="15.5" fill="#424242"/>
<rect x="1540.9" y="1005.6" width="15.5" height="15.5" fill="#424242"/>
<rect x="1551.9" y="1005.6" width="15.5" height="15.5" fill="#424242"/>
<rect x="1563" y="1005.6" width="15.5" height="15.5" fill="#424242"/>
<rect x="1386.1" y="1029.3" width="15.5" height="15.5" fill="#424242"/>
<rect x="1574" y="1000.9" width="15.5" height="15.5" fill="#424242"/>
<rect x="1585.1" y="1000.9" width="15.5" height="15.5" fill="#424242"/>
<rect x="1607.2" y="1000.9" width="15.5" height="15.5" fill="#424242"/>
<rect x="1629.3" y="1000.9" width="15.5" height="15.5" fill="#424242"/>
<rect x="1640.4" y="1000.9" width="15.5" height="15.5" fill="#424242"/>
<rect x="1651.4" y="1000.9" width="15.5" height="15.5" fill="#424242"/>
<rect x="1662.5" y="1000.9" width="15.5" height="15.5" fill="#424242"/>
<rect x="1673.5" y="1000.9" width="15.5" height="15.5" fill="#424242"/>
<rect x="1684.6" y="1000.9" width="15.5" height="15.5" fill="#424242"/>
<rect x="1717.7" y="1000.9" width="15.5" height="15.5" fill="#424242"/>
<rect x="1739.9" y="1000.9" width="15.5" height="15.5" fill="#424242"/>
<rect x="1762" y="1000.9" width="15.5" height="15.5" fill="#424242"/>
<rect x="1784.1" y="1000.9" width="15.5" height="15.5" fill="#424242"/>
<rect x="1905.7" y="1007.5" width="15.5" height="15.5" fill="#424242"/>
<rect x="1916.7" y="1000.9" width="15.5" height="15.5" fill="#424242"/>
<rect x="1960.9" y="1000.9" width="15.5" height="15.5" fill="#424242"/>
<rect x="1983" y="1000.9" width="15.5" height="15.5" fill="#424242"/>
<rect x="2016.2" y="1000.9" width="15.5" height="15.5" fill="#424242"/>
<rect x="1496.7" y="1037.4" width="15.5" height="15.5" fill="#424242"/>
<rect x="1529.8" y="1037.4" width="15.5" height="15.5" fill="#424242"/>
<rect x="1563" y="1037.4" width="15.5" height="15.5" fill="#424242"/>
<rect x="1596.2" y="1037.4" width="15.5" height="15.5" fill="#424242"/>
<rect x="1618.3" y="1037.4" width="15.5" height="15.5" fill="#424242"/>
<rect x="1695.6" y="1037.4" width="15.5" height="15.5" fill="#424242"/>
<rect x="1706.7" y="1037.4" width="15.5" height="15.5" fill="#424242"/>
<rect x="1717.7" y="1037.4" width="15.5" height="15.5" fill="#424242"/>
<rect x="1728.8" y="1037.4" width="15.5" height="15.5" fill="#424242"/>
<rect x="1739.9" y="1037.4" width="15.5" height="15.5" fill="#424242"/>
<rect x="1750.9" y="1037.9" width="15.5" height="15.5" fill="#424242"/>
<rect x="1773" y="1037.9" width="15.5" height="15.5" fill="#424242"/>
<rect x="1795.1" y="1037.9" width="15.5" height="15.5" fill="#424242"/>
<rect x="1806.2" y="1037.9" width="15.5" height="15.5" fill="#424242"/>
<rect x="1817.2" y="1037.9" width="15.5" height="15.5" fill="#424242"/>
<rect x="1828.3" y="1037.9" width="15.5" height="15.5" fill="#424242"/>
<rect x="1839.3" y="1037.9" width="15.5" height="15.5" fill="#424242"/>
<rect x="1850.4" y="1037.9" width="15.5" height="15.5" fill="#424242"/>
<rect x="1861.4" y="1037.9" width="15.5" height="15.5" fill="#424242"/>
<rect x="1872.5" y="1037.9" width="15.5" height="15.5" fill="#424242"/>
<rect x="1883.6" y="1037.9" width="15.5" height="15.5" fill="#424242"/>
<rect x="1894.6" y="1037.9" width="15.5" height="15.5" fill="#424242"/>
<rect x="1927.8" y="1037.9" width="15.5" height="15.5" fill="#424242"/>
<rect x="1938.8" y="1037.9" width="15.5" height="15.5" fill="#424242"/>
<rect x="1949.9" y="1037.9" width="15.5" height="15.5" fill="#424242"/>
<rect x="1994.1" y="1037.9" width="15.5" height="15.5" fill="#424242"/>
<rect x="2005.1" y="1037.9" width="15.5" height="15.5" fill="#424242"/>
<circle cx="1150.7" cy="1405" r="8.5" fill="#df3e3d"/>
<circle cx="1161.8" cy="1405" r="8.5" fill="#df3e3d"/>
<circle cx="1172.8" cy="1407.3" r="8.5" fill="#df3e3d"/>
<circle cx="1228.1" cy="1372.7" r="8.5" fill="#df3e3d"/>
<circle cx="1272.3" cy="1350.4" r="8.5" fill="#df3e3d"/>
<circle cx="1206" cy="994.4" r="8.5" fill="#df3e3d"/>
<circle cx="1217" cy="994.4" r="8.5" fill="#df3e3d"/>
<circle cx="1239.1" cy="994.4" r="8.5" fill="#df3e3d"/>
<circle cx="1250.2" cy="994.4" r="8.5" fill="#df3e3d"/>
<circle cx="1261.2" cy="1032.8" r="8.5" fill="#df3e3d"/>
<circle cx="1283.3" cy="1032.8" r="8.5" fill="#df3e3d"/>
<circle cx="1294.4" cy="1032.3" r="8.5" fill="#df3e3d"/>
<circle cx="1305.5" cy="1032.3" r="8.5" fill="#df3e3d"/>
<circle cx="1316.5" cy="1032.3" r="8.5" fill="#df3e3d"/>
<circle cx="1327.6" cy="1032.3" r="8.5" fill="#df3e3d"/>
<circle cx="1338.6" cy="1032.8" r="8.5" fill="#df3e3d"/>
<circle cx="1371.8" cy="1032.8" r="8.5" fill="#df3e3d"/>
<circle cx="1327.6" cy="1069.4" r="8.5" fill="#df3e3d"/>
<circle cx="1360.7" cy="1011.9" r="8.5" fill="#df3e3d"/>
<circle cx="1371.8" cy="1011.9" r="8.5" fill="#df3e3d"/>
<circle cx="1382.8" cy="1011.9" r="8.5" fill="#df3e3d"/>
<circle cx="1393.9" cy="1011.9" r="8.5" fill="#df3e3d"/>
<circle cx="1404.9" cy="1011.9" r="8.5" fill="#df3e3d"/>
<circle cx="1416" cy="1011.9" r="8.5" fill="#df3e3d"/>
<circle cx="1427" cy="1011.9" r="8.5" fill="#df3e3d"/>
<circle cx="1438.1" cy="1011.9" r="8.5" fill="#df3e3d"/>
<circle cx="1449.2" cy="1011.9" r="8.5" fill="#df3e3d"/>
<circle cx="1460.2" cy="1011.9" r="8.5" fill="#df3e3d"/>
<circle cx="1471.3" cy="1011.9" r="8.5" fill="#df3e3d"/>
<circle cx="1482.3" cy="1011.9" r="8.5" fill="#df3e3d"/>
<circle cx="1493.4" cy="1011.9" r="8.5" fill="#df3e3d"/>
<circle cx="1504.4" cy="1011.9" r="8.5" fill="#df3e3d"/>
<circle cx="1515.5" cy="1011.9" r="8.5" fill="#df3e3d"/>
<circle cx="1526.5" cy="1011.9" r="8.5" fill="#df3e3d"/>
<circle cx="1537.6" cy="1011.9" r="8.5" fill="#df3e3d"/>
<circle cx="1548.6" cy="1011.9" r="8.5" fill="#df3e3d"/>
<circle cx="1559.7" cy="1011.9" r="8.5" fill="#df3e3d"/>
<circle cx="1515.5" cy="1089.3" r="8.5" fill="#df3e3d"/>
<circle cx="1537.6" cy="1089.3" r="8.5" fill="#df3e3d"/>
<circle cx="1559.7" cy="1089.3" r="8.5" fill="#df3e3d"/>
<circle cx="1570.7" cy="1089.3" r="8.5" fill="#df3e3d"/>
<circle cx="1581.8" cy="1089.3" r="8.5" fill="#df3e3d"/>
<circle cx="1592.8" cy="1089.3" r="8.5" fill="#df3e3d"/>
<circle cx="1603.9" cy="1089.3" r="8.5" fill="#df3e3d"/>
<circle cx="1615" cy="1089.3" r="8.5" fill="#df3e3d"/>
<circle cx="1626" cy="1089.3" r="8.5" fill="#df3e3d"/>
<circle cx="1637.1" cy="1089.3" r="8.5" fill="#df3e3d"/>
<circle cx="1648.1" cy="1089.3" r="8.5" fill="#df3e3d"/>
<circle cx="1659.2" cy="1089.3" r="8.5" fill="#df3e3d"/>
<circle cx="1670.2" cy="1089.3" r="8.5" fill="#df3e3d"/>
<circle cx="1681.3" cy="1089.3" r="8.5" fill="#df3e3d"/>
<circle cx="1692.3" cy="1089.3" r="8.5" fill="#df3e3d"/>
<circle cx="1703.4" cy="1089.3" r="8.5" fill="#df3e3d"/>
<circle cx="1714.4" cy="1089.3" r="8.5" fill="#df3e3d"/>
<circle cx="1725.5" cy="1089.3" r="8.5" fill="#df3e3d"/>
<circle cx="1736.5" cy="1089.3" r="8.5" fill="#df3e3d"/>
<circle cx="1747.6" cy="1089.3" r="8.5" fill="#df3e3d"/>
<circle cx="1758.7" cy="1089.3" r="8.5" fill="#df3e3d"/>
<circle cx="1769.7" cy="1089.3" r="8.5" fill="#df3e3d"/>
<circle cx="1780.8" cy="1089.3" r="8.5" fill="#df3e3d"/>
<circle cx="1791.8" cy="1089.3" r="8.5" fill="#df3e3d"/>
<circle cx="1802.9" cy="1089.3" r="8.5" fill="#df3e3d"/>
<circle cx="1813.9" cy="1089.3" r="8.5" fill="#df3e3d"/>
<circle cx="1825" cy="1089.3" r="8.5" fill="#df3e3d"/>
<circle cx="1836" cy="1089.3" r="8.5" fill="#df3e3d"/>
<circle cx="1847.1" cy="1089.3" r="8.5" fill="#df3e3d"/>
<circle cx="1858.1" cy="1089.3" r="8.5" fill="#df3e3d"/>
<circle cx="1869.2" cy="1089.3" r="8.5" fill="#df3e3d"/>
<circle cx="1880.2" cy="1089.3" r="8.5" fill="#df3e3d"/>
<circle cx="1891.3" cy="1089.3" r="8.5" fill="#df3e3d"/>
<circle cx="1902.4" cy="1089.3" r="8.5" fill="#df3e3d"/>
<circle cx="1913.4" cy="1089.3" r="8.5" fill="#df3e3d"/>
<circle cx="1924.5" cy="1089.3" r="8.5" fill="#df3e3d"/>
<circle cx="1935.5" cy="1089.3" r="8.5" fill="#df3e3d"/>
<circle cx="1946.6" cy="1089.3" r="8.5" fill="#df3e3d"/>
<circle cx="1957.6" cy="1089.3" r="8.5" fill="#df3e3d"/>
<circle cx="1968.7" cy="1089.3" r="8.5" fill="#df3e3d"/>
<circle cx="1979.7" cy="1089.3" r="8.5" fill="#df3e3d"/>
<circle cx="1990.8" cy="1089.3" r="8.5" fill="#df3e3d"/>
<circle cx="2001.8" cy="1089.3" r="8.5" fill="#df3e3d"/>
<circle cx="2012.9" cy="1089.3" r="8.5" fill="#df3e3d"/>
<circle cx="2023.9" cy="1089.3" r="8.5" fill="#df3e3d"/>
<circle cx="2035" cy="1089.3" r="8.5" fill="#df3e3d"/>
<circle cx="1747.6" cy="1070.3" r="8.5" fill="#df3e3d"/>
<path d="M1150.7 1398.6L1160.5 1416.1L1141 1416.1Z" fill="#2968c0"/>
<path d="M1161.8 1398.6L1171.5 1416.1L1152 1416.1Z" fill="#2968c0"/>
<path d="M1172.8 1408.1L1182.6 1425.6L1163.1 1425.6Z" fill="#2968c0"/>
<path d="M1183.9 1393.8L1193.6 1411.4L1174.1 1411.4Z" fill="#2968c0"/>
<path d="M1194.9 1393.8L1204.7 1411.4L1185.2 1411.4Z" fill="#2968c0"/>
<path d="M1206 1393.8L1215.7 1411.4L1196.2 1411.4Z" fill="#2968c0"/>
<path d="M1217 1396.2L1226.8 1413.7L1207.3 1413.7Z" fill="#2968c0"/>
<path d="M1228.1 1396.2L1237.8 1413.7L1218.3 1413.7Z" fill="#2968c0"/>
<path d="M1239.1 1396.2L1248.9 1413.7L1229.4 1413.7Z" fill="#2968c0"/>
<path d="M1250.2 1396.2L1259.9 1413.7L1240.4 1413.7Z" fill="#2968c0"/>
<path d="M1261.2 1396.2L1271 1413.7L1251.5 1413.7Z" fill="#2968c0"/>
<path d="M1272.3 1396.2L1282 1413.7L1262.5 1413.7Z" fill="#2968c0"/>
<path d="M1283.3 1396.2L1293.1 1413.7L1273.6 1413.7Z" fill="#2968c0"/>
<path d="M1294.4 1396.2L1304.1 1413.7L1284.6 1413.7Z" fill="#2968c0"/>
<path d="M1338.6 934.3L1348.4 951.9L1328.9 951.9Z" fill="#2968c0"/>
<path d="M1360.7 934.3L1370.5 951.9L1351 951.9Z" fill="#2968c0"/>
<path d="M1382.8 934.3L1392.6 951.9L1373.1 951.9Z" fill="#2968c0"/>
<path d="M1393.9 934.3L1403.6 951.9L1384.1 951.9Z" fill="#2968c0"/>
<path d="M1438.1 934.3L1447.8 951.9L1428.3 951.9Z" fill="#2968c0"/>
<path d="M1460.2 963.3L1470 980.8L1450.5 980.8Z" fill="#2968c0"/>
<path d="M1283.3 992.2L1293.1 1009.8L1273.6 1009.8Z" fill="#2968c0"/>
<path d="M1316.5 992.2L1326.3 1009.8L1306.8 1009.8Z" fill="#2968c0"/>
<path d="M1349.7 992.2L1359.4 1009.8L1339.9 1009.8Z" fill="#2968c0"/>
<path d="M1294.4 1023.6L1304.1 1041.1L1284.6 1041.1Z" fill="#2968c0"/>
<path d="M1305.5 1023.6L1315.2 1041.1L1295.7 1041.1Z" fill="#2968c0"/>
<path d="M1316.5 1023.6L1326.3 1041.1L1306.8 1041.1Z" fill="#2968c0"/>
<path d="M1327.6 1023.6L1337.3 1041.1L1317.8 1041.1Z" fill="#2968c0"/>
<path d="M1427 1021.2L1436.8 1038.7L1417.3 1038.7Z" fill="#2968c0"/>
<path d="M1438.1 1050.6L1447.8 1068.2L1428.3 1068.2Z" fill="#2968c0"/>
<path d="M1449.2 1050.6L1458.9 1068.2L1439.4 1068.2Z" fill="#2968c0"/>
<path d="M1460.2 1050.6L1470 1068.2L1450.5 1068.2Z" fill="#2968c0"/>
<path d="M1471.3 1050.6L1481 1068.2L1461.5 1068.2Z" fill="#2968c0"/>
<path d="M1482.3 1050.6L1492.1 1068.2L1472.6 1068.2Z" fill="#2968c0"/>
<path d="M1493.4 1050.6L1503.1 1068.2L1483.6 1068.2Z" fill="#2968c0"/>
<path d="M1504.4 1050.6L1514.2 1068.2L1494.7 1068.2Z" fill="#2968c0"/>
<path d="M1515.5 1050.6L1525.2 1068.2L1505.7 1068.2Z" fill="#2968c0"/>
<path d="M1526.5 1050.6L1536.3 1068.2L1516.8 1068.2Z" fill="#2968c0"/>
<path d="M1537.6 1050.6L1547.3 1068.2L1527.8 1068.2Z" fill="#2968c0"/>
<path d="M1548.6 1050.6L1558.4 1068.2L1538.9 1068.2Z" fill="#2968c0"/>
<path d="M1559.7 1050.6L1569.4 1068.2L1549.9 1068.2Z" fill="#2968c0"/>
<path d="M1570.7 1050.6L1580.5 1068.2L1561 1068.2Z" fill="#2968c0"/>
<path d="M1581.8 1050.6L1591.5 1068.2L1572 1068.2Z" fill="#2968c0"/>
<path d="M1592.8 1050.6L1602.6 1068.2L1583.1 1068.2Z" fill="#2968c0"/>
<path d="M1603.9 1050.6L1613.7 1068.2L1594.2 1068.2Z" fill="#2968c0"/>
<path d="M1615 1050.6L1624.7 1068.2L1605.2 1068.2Z" fill="#2968c0"/>
<path d="M1626 1050.6L1635.8 1068.2L1616.3 1068.2Z" fill="#2968c0"/>
<path d="M1637.1 1050.6L1646.8 1068.2L1627.3 1068.2Z" fill="#2968c0"/>
<path d="M1648.1 1050.6L1657.9 1068.2L1638.4 1068.2Z" fill="#2968c0"/>
<path d="M1659.2 1050.6L1668.9 1068.2L1649.4 1068.2Z" fill="#2968c0"/>
<path d="M1670.2 1050.6L1680 1068.2L1660.5 1068.2Z" fill="#2968c0"/>
<path d="M1681.3 1050.6L1691 1068.2L1671.5 1068.2Z" fill="#2968c0"/>
<path d="M1692.3 1050.6L1702.1 1068.2L1682.6 1068.2Z" fill="#2968c0"/>
<path d="M1703.4 1050.6L1713.1 1068.2L1693.6 1068.2Z" fill="#2968c0"/>
<path d="M1714.4 1050.6L1724.2 1068.2L1704.7 1068.2Z" fill="#2968c0"/>
<path d="M1725.5 1050.6L1735.2 1068.2L1715.7 1068.2Z" fill="#2968c0"/>
<path d="M1736.5 1050.6L1746.3 1068.2L1726.8 1068.2Z" fill="#2968c0"/>
<path d="M1747.6 1050.6L1757.4 1068.2L1737.9 1068.2Z" fill="#2968c0"/>
<path d="M1758.7 1050.6L1768.4 1068.2L1748.9 1068.2Z" fill="#2968c0"/>
<path d="M1769.7 1050.6L1779.5 1068.2L1760 1068.2Z" fill="#2968c0"/>
<path d="M1780.8 1050.6L1790.5 1068.2L1771 1068.2Z" fill="#2968c0"/>
<path d="M1791.8 1050.6L1801.6 1068.2L1782.1 1068.2Z" fill="#2968c0"/>
<path d="M1802.9 1050.6L1812.6 1068.2L1793.1 1068.2Z" fill="#2968c0"/>
<path d="M1813.9 1050.6L1823.7 1068.2L1804.2 1068.2Z" fill="#2968c0"/>
<path d="M1825 1050.6L1834.7 1068.2L1815.2 1068.2Z" fill="#2968c0"/>
<path d="M1836 1050.6L1845.8 1068.2L1826.3 1068.2Z" fill="#2968c0"/>
<path d="M1847.1 1050.6L1856.8 1068.2L1837.3 1068.2Z" fill="#2968c0"/>
<path d="M1858.1 1050.6L1867.9 1068.2L1848.4 1068.2Z" fill="#2968c0"/>
<path d="M1869.2 1050.6L1878.9 1068.2L1859.4 1068.2Z" fill="#2968c0"/>
<path d="M1880.2 1050.6L1890 1068.2L1870.5 1068.2Z" fill="#2968c0"/>
<path d="M1891.3 1050.6L1901.1 1068.2L1881.6 1068.2Z" fill="#2968c0"/>
<path d="M1902.4 1050.6L1912.1 1068.2L1892.6 1068.2Z" fill="#2968c0"/>
<path d="M1913.4 1050.6L1923.2 1068.2L1903.7 1068.2Z" fill="#2968c0"/>
<path d="M1924.5 1050.6L1934.2 1068.2L1914.7 1068.2Z" fill="#2968c0"/>
<path d="M1935.5 1050.6L1945.3 1068.2L1925.8 1068.2Z" fill="#2968c0"/>
<path d="M1946.6 1050.6L1956.3 1068.2L1936.8 1068.2Z" fill="#2968c0"/>
<path d="M1957.6 1050.6L1967.4 1068.2L1947.9 1068.2Z" fill="#2968c0"/>
<path d="M1968.7 1050.6L1978.4 1068.2L1958.9 1068.2Z" fill="#2968c0"/>
<path d="M1979.7 1027.4L1989.5 1044.9L1970 1044.9Z" fill="#2968c0"/>
<path d="M1990.8 1050.6L2000.5 1068.2L1981 1068.2Z" fill="#2968c0"/>
<path d="M2001.8 1050.6L2011.6 1068.2L1992.1 1068.2Z" fill="#2968c0"/>
<path d="M2012.9 1050.6L2022.6 1068.2L2003.1 1068.2Z" fill="#2968c0"/>
<path d="M2023.9 1050.6L2033.7 1068.2L2014.2 1068.2Z" fill="#2968c0"/>
<path d="M2035 1050.6L2044.8 1068.2L2025.2 1068.2Z" fill="#2968c0"/>
<path d="M1141 1389.1L1160.5 1389.1L1150.7 1406.6Z" fill="#3fa16b"/>
<path d="M1152 1389.1L1171.5 1389.1L1161.8 1406.6Z" fill="#3fa16b"/>
<path d="M1163.1 1389.1L1182.6 1389.1L1172.8 1406.6Z" fill="#3fa16b"/>
<path d="M1174.1 1412.8L1193.6 1412.8L1183.9 1430.3Z" fill="#3fa16b"/>
<path d="M1174.1 1386.7L1193.6 1386.7L1183.9 1404.2Z" fill="#3fa16b"/>
<path d="M1185.2 1386.7L1204.7 1386.7L1194.9 1404.2Z" fill="#3fa16b"/>
<path d="M1196.2 1386.7L1215.7 1386.7L1206 1404.2Z" fill="#3fa16b"/>
<path d="M1207.3 1386.7L1226.8 1386.7L1217 1404.2Z" fill="#3fa16b"/>
<path d="M1218.3 1421.8L1237.8 1421.8L1228.1 1439.4Z" fill="#3fa16b"/>
<path d="M1240.4 1384.3L1259.9 1384.3L1250.2 1401.9Z" fill="#3fa16b"/>
<path d="M1218.3 1006L1237.8 1006L1228.1 1023.6Z" fill="#3fa16b"/>
<path d="M1229.4 1006L1248.9 1006L1239.1 1023.6Z" fill="#3fa16b"/>
<path d="M1240.4 1006L1259.9 1006L1250.2 1023.6Z" fill="#3fa16b"/>
<path d="M1251.5 1006L1271 1006L1261.2 1023.6Z" fill="#3fa16b"/>
<path d="M1262.5 1006L1282 1006L1272.3 1023.6Z" fill="#3fa16b"/>
<path d="M1273.6 1006L1293.1 1006L1283.3 1023.6Z" fill="#3fa16b"/>
<path d="M1284.6 1006L1304.1 1006L1294.4 1023.6Z" fill="#3fa16b"/>
<path d="M1295.7 1006L1315.2 1006L1305.5 1023.6Z" fill="#3fa16b"/>
<path d="M1306.8 1006L1326.3 1006L1316.5 1023.6Z" fill="#3fa16b"/>
<path d="M1317.8 1006L1337.3 1006L1327.6 1023.6Z" fill="#3fa16b"/>
<path d="M1328.9 1006L1348.4 1006L1338.6 1023.6Z" fill="#3fa16b"/>
<path d="M1339.9 1006L1359.4 1006L1349.7 1023.6Z" fill="#3fa16b"/>
<path d="M1351 1006L1370.5 1006L1360.7 1023.6Z" fill="#3fa16b"/>
<path d="M1295.7 966.6L1315.2 966.6L1305.5 984.2Z" fill="#3fa16b"/>
<path d="M1317.8 966.6L1337.3 966.6L1327.6 984.2Z" fill="#3fa16b"/>
<path d="M1351 966.6L1370.5 966.6L1360.7 984.2Z" fill="#3fa16b"/>
<path d="M1362 966.6L1381.5 966.6L1371.8 984.2Z" fill="#3fa16b"/>
<path d="M1384.1 966.6L1403.6 966.6L1393.9 984.2Z" fill="#3fa16b"/>
<path d="M1395.2 966.6L1414.7 966.6L1404.9 984.2Z" fill="#3fa16b"/>
<path d="M1406.2 966.6L1425.7 966.6L1416 984.2Z" fill="#3fa16b"/>
<path d="M1417.3 966.6L1436.8 966.6L1427 984.2Z" fill="#3fa16b"/>
<path d="M1428.3 966.6L1447.8 966.6L1438.1 984.2Z" fill="#3fa16b"/>
<path d="M1439.4 966.6L1458.9 966.6L1449.2 984.2Z" fill="#3fa16b"/>
<path d="M1273.6 1082L1293.1 1082L1283.3 1099.5Z" fill="#3fa16b"/>
<path d="M1439.4 1080.5L1458.9 1080.5L1449.2 1098.1Z" fill="#3fa16b"/>
<path d="M1450.5 1080.5L1470 1080.5L1460.2 1098.1Z" fill="#3fa16b"/>
<path d="M1461.5 1080.5L1481 1080.5L1471.3 1098.1Z" fill="#3fa16b"/>
<path d="M1472.6 1080.5L1492.1 1080.5L1482.3 1098.1Z" fill="#3fa16b"/>
<path d="M1483.6 1080.5L1503.1 1080.5L1493.4 1098.1Z" fill="#3fa16b"/>
<path d="M1494.7 1080.5L1514.2 1080.5L1504.4 1098.1Z" fill="#3fa16b"/>
<path d="M1483.6 1119.9L1503.1 1119.9L1493.4 1137.5Z" fill="#3fa16b"/>
<path d="M1505.7 1119.9L1525.2 1119.9L1515.5 1137.5Z" fill="#3fa16b"/>
<path d="M1516.8 1119.9L1536.3 1119.9L1526.5 1137.5Z" fill="#3fa16b"/>
<path d="M1527.8 1119.9L1547.3 1119.9L1537.6 1137.5Z" fill="#3fa16b"/>
<path d="M1538.9 1119.9L1558.4 1119.9L1548.6 1137.5Z" fill="#3fa16b"/>
<path d="M1549.9 1119.9L1569.4 1119.9L1559.7 1137.5Z" fill="#3fa16b"/>
<path d="M1561 1119.9L1580.5 1119.9L1570.7 1137.5Z" fill="#3fa16b"/>
<path d="M1572 1119.9L1591.5 1119.9L1581.8 1137.5Z" fill="#3fa16b"/>
<path d="M1583.1 1119.9L1602.6 1119.9L1592.8 1137.5Z" fill="#3fa16b"/>
<path d="M1594.2 1119.9L1613.7 1119.9L1603.9 1137.5Z" fill="#3fa16b"/>
<path d="M1605.2 1119.9L1624.7 1119.9L1615 1137.5Z" fill="#3fa16b"/>
<path d="M1616.3 1119.9L1635.8 1119.9L1626 1137.5Z" fill="#3fa16b"/>
<path d="M1627.3 1119.9L1646.8 1119.9L1637.1 1137.5Z" fill="#3fa16b"/>
<path d="M1638.4 1119.9L1657.9 1119.9L1648.1 1137.5Z" fill="#3fa16b"/>
<path d="M1649.4 1119.9L1668.9 1119.9L1659.2 1137.5Z" fill="#3fa16b"/>
<path d="M1660.5 1119.9L1680 1119.9L1670.2 1137.5Z" fill="#3fa16b"/>
<path d="M1671.5 1119.9L1691 1119.9L1681.3 1137.5Z" fill="#3fa16b"/>
<path d="M1682.6 1119.9L1702.1 1119.9L1692.3 1137.5Z" fill="#3fa16b"/>
<path d="M1693.6 1119.9L1713.1 1119.9L1703.4 1137.5Z" fill="#3fa16b"/>
<path d="M1704.7 1119.9L1724.2 1119.9L1714.4 1137.5Z" fill="#3fa16b"/>
<path d="M1715.7 1119.9L1735.2 1119.9L1725.5 1137.5Z" fill="#3fa16b"/>
<path d="M1726.8 1119.9L1746.3 1119.9L1736.5 1137.5Z" fill="#3fa16b"/>
<path d="M1737.9 1119.9L1757.4 1119.9L1747.6 1137.5Z" fill="#3fa16b"/>
<path d="M1748.9 1119.9L1768.4 1119.9L1758.7 1137.5Z" fill="#3fa16b"/>
<path d="M1760 1119.9L1779.5 1119.9L1769.7 1137.5Z" fill="#3fa16b"/>
<path d="M1771 1119.9L1790.5 1119.9L1780.8 1137.5Z" fill="#3fa16b"/>
<path d="M1782.1 1119.9L1801.6 1119.9L1791.8 1137.5Z" fill="#3fa16b"/>
<path d="M1793.1 1119.9L1812.6 1119.9L1802.9 1137.5Z" fill="#3fa16b"/>
<path d="M1804.2 1119.9L1823.7 1119.9L1813.9 1137.5Z" fill="#3fa16b"/>
<path d="M1815.2 1119.9L1834.7 1119.9L1825 1137.5Z" fill="#3fa16b"/>
<path d="M1826.3 1119.9L1845.8 1119.9L1836 1137.5Z" fill="#3fa16b"/>
<path d="M1837.3 1119.9L1856.8 1119.9L1847.1 1137.5Z" fill="#3fa16b"/>
<path d="M1848.4 1119.9L1867.9 1119.9L1858.1 1137.5Z" fill="#3fa16b"/>
<path d="M1859.4 1119.9L1878.9 1119.9L1869.2 1137.5Z" fill="#3fa16b"/>
<path d="M1870.5 1119.9L1890 1119.9L1880.2 1137.5Z" fill="#3fa16b"/>
<path d="M1881.6 1119.9L1901.1 1119.9L1891.3 1137.5Z" fill="#3fa16b"/>
<path d="M1892.6 1119.9L1912.1 1119.9L1902.4 1137.5Z" fill="#3fa16b"/>
<path d="M1903.7 1119.9L1923.2 1119.9L1913.4 1137.5Z" fill="#3fa16b"/>
<path d="M1914.7 1119.9L1934.2 1119.9L1924.5 1137.5Z" fill="#3fa16b"/>
<path d="M1925.8 1119.9L1945.3 1119.9L1935.5 1137.5Z" fill="#3fa16b"/>
<path d="M1936.8 1119.9L1956.3 1119.9L1946.6 1137.5Z" fill="#3fa16b"/>
<path d="M1947.9 1119.9L1967.4 1119.9L1957.6 1137.5Z" fill="#3fa16b"/>
<path d="M1958.9 1119.9L1978.4 1119.9L1968.7 1137.5Z" fill="#3fa16b"/>
<path d="M1970 1119.9L1989.5 1119.9L1979.7 1137.5Z" fill="#3fa16b"/>
<path d="M1981 1119.9L2000.5 1119.9L1990.8 1137.5Z" fill="#3fa16b"/>
<path d="M1992.1 1119.9L2011.6 1119.9L2001.8 1137.5Z" fill="#3fa16b"/>
<path d="M2003.1 1119.9L2022.6 1119.9L2012.9 1137.5Z" fill="#3fa16b"/>
<path d="M2014.2 1119.9L2033.7 1119.9L2023.9 1137.5Z" fill="#3fa16b"/>
<path d="M2025.2 1119.9L2044.8 1119.9L2035 1137.5Z" fill="#3fa16b"/>
</g>
<path d="M1150.7 1526v13M1150.7 814v13M1371.8 1526v13M1371.8 814v13M1592.8 1526v13M1592.8 814v13M1813.9 1526v13M1813.9 814v13M2035 1526v13M2035 814v13M1261.2 1526v7M1261.2 814v7M1482.3 1526v7M1482.3 814v7M1703.4 1526v7M1703.4 814v7M1924.5 1526v7M1924.5 814v7M1150.7 1407.3h-13M2035 1407.3h-13M1150.7 1170h-13M2035 1170h-13M1150.7 932.7h-13M2035 932.7h-13M1150.7 1526h-7M2035 1526h-7M1150.7 1288.7h-7M2035 1288.7h-7M1150.7 1051.3h-7M2035 1051.3h-7M1150.7 814h-7M2035 814h-7" stroke="#111" stroke-width="2.6" fill="none"/>
<path d="M1150.7 814H2035" stroke="#111" stroke-width="2.6" fill="none" stroke-linecap="square"/>
<path d="M1150.7 814V1526H2035V814" stroke="#111" stroke-width="2.6" fill="none" stroke-linecap="square"/>
<text x="1150.7" y="1578" text-anchor="middle" font-size="34">0.0</text>
<text x="1371.8" y="1578" text-anchor="middle" font-size="34">0.2</text>
<text x="1592.8" y="1578" text-anchor="middle" font-size="34">0.4</text>
<text x="1813.9" y="1578" text-anchor="middle" font-size="34">0.6</text>
<text x="2035" y="1578" text-anchor="middle" font-size="34">0.8</text>
<text x="1127.7" y="1419.5" text-anchor="end" font-size="34">0</text>
<text x="1127.7" y="1182.2" text-anchor="end" font-size="34">5</text>
<text x="1127.7" y="944.8" text-anchor="end" font-size="34">10</text>
<rect x="1769.1" y="1170.1" width="236.5" height="64.3" fill="#000"/>
<rect x="1759.6" y="1160.6" width="236.5" height="64.3" fill="#fff" stroke="#555" stroke-width="1.6"/>
<text x="1767.3" y="1209.5" font-size="42.5"><tspan style="font-family:'Liberation Serif', 'Times New Roman', serif">Δ</tspan>f = 7 GHz</text>
<path d="M1295.9 1354.5L1333.2 1346.8L1324.6 1337.1L1366.4 1300.1L1358.4 1291.1L1316.6 1328.1L1308 1318.4Z" fill="#000"/>
<text x="1354" y="1263.2" font-size="52" style="font-family:'Liberation Serif', 'Times New Roman', serif">Pulling</text>
<text x="1158.6" y="1507" font-size="80" style="font-family:'Liberation Serif', 'Times New Roman', serif">(d)</text>
<rect x="489" y="2336" width="1076" height="132" fill="#f8f8f8"/>
<line x1="618.2" y1="1967" x2="1505.5" y2="1967" stroke="#444" stroke-width="3"/>
<clipPath id="cp5"><rect x="618.2" y="1610" width="887.3" height="714"/></clipPath>
<g clip-path="url(#cp5)">
<rect x="642" y="1933.7" width="19" height="19" fill="#424242"/>
<rect x="653.1" y="1909.9" width="19" height="19" fill="#424242"/>
<rect x="664.2" y="1909.9" width="19" height="19" fill="#424242"/>
<rect x="697.4" y="1909.9" width="19" height="19" fill="#424242"/>
<rect x="708.5" y="1909.9" width="19" height="19" fill="#424242"/>
<rect x="719.6" y="1909.9" width="19" height="19" fill="#424242"/>
<rect x="730.7" y="1909.9" width="19" height="19" fill="#424242"/>
<rect x="741.8" y="1909.9" width="19" height="19" fill="#424242"/>
<rect x="752.9" y="1909.9" width="19" height="19" fill="#424242"/>
<rect x="764" y="1909.9" width="19" height="19" fill="#424242"/>
<rect x="775.1" y="1909.9" width="19" height="19" fill="#424242"/>
<rect x="786.2" y="1909.9" width="19" height="19" fill="#424242"/>
<rect x="797.3" y="1909.9" width="19" height="19" fill="#424242"/>
<rect x="808.3" y="1909.9" width="19" height="19" fill="#424242"/>
<rect x="874.9" y="1909.9" width="19" height="19" fill="#424242"/>
<rect x="886" y="1932.5" width="19" height="19" fill="#424242"/>
<rect x="908.2" y="1931.3" width="19" height="19" fill="#424242"/>
<rect x="1118.9" y="1912.3" width="19" height="19" fill="#424242"/>
<rect x="1296.4" y="1909.9" width="19" height="19" fill="#424242"/>
<rect x="1318.5" y="1926.6" width="19" height="19" fill="#424242"/>
<rect x="1451.6" y="1909.9" width="19" height="19" fill="#424242"/>
<rect x="819.4" y="1981.3" width="19" height="19" fill="#424242"/>
<rect x="830.5" y="1981.3" width="19" height="19" fill="#424242"/>
<rect x="852.7" y="1981.3" width="19" height="19" fill="#424242"/>
<rect x="897.1" y="1981.3" width="19" height="19" fill="#424242"/>
<rect x="941.4" y="1981.3" width="19" height="19" fill="#424242"/>
<rect x="952.5" y="1981.3" width="19" height="19" fill="#424242"/>
<rect x="963.6" y="1981.3" width="19" height="19" fill="#424242"/>
<rect x="974.7" y="1981.3" width="19" height="19" fill="#424242"/>
<rect x="985.8" y="1981.3" width="19" height="19" fill="#424242"/>
<rect x="996.9" y="1981.3" width="19" height="19" fill="#424242"/>
<rect x="1008" y="1981.3" width="19" height="19" fill="#424242"/>
<rect x="1019.1" y="1981.3" width="19" height="19" fill="#424242"/>
<rect x="1030.2" y="1989.6" width="19" height="19" fill="#424242"/>
<rect x="1041.3" y="1989.6" width="19" height="19" fill="#424242"/>
<rect x="952.5" y="2008.7" width="19" height="19" fill="#424242"/>
<rect x="1107.8" y="1982.5" width="19" height="19" fill="#424242"/>
<rect x="1118.9" y="1982.5" width="19" height="19" fill="#424242"/>
<rect x="1130" y="1982.5" width="19" height="19" fill="#424242"/>
<rect x="1141.1" y="1982.5" width="19" height="19" fill="#424242"/>
<rect x="1152.2" y="1982.5" width="19" height="19" fill="#424242"/>
<rect x="1185.4" y="1982.5" width="19" height="19" fill="#424242"/>
<rect x="1240.9" y="1983.7" width="19" height="19" fill="#424242"/>
<rect x="1152.2" y="2003.9" width="19" height="19" fill="#424242"/>
<rect x="1163.3" y="2003.9" width="19" height="19" fill="#424242"/>
<rect x="1174.4" y="2003.9" width="19" height="19" fill="#424242"/>
<rect x="1185.4" y="2003.9" width="19" height="19" fill="#424242"/>
<rect x="1196.5" y="2003.9" width="19" height="19" fill="#424242"/>
<rect x="1207.6" y="2003.9" width="19" height="19" fill="#424242"/>
<rect x="1218.7" y="2003.9" width="19" height="19" fill="#424242"/>
<rect x="1229.8" y="2003.9" width="19" height="19" fill="#424242"/>
<rect x="1240.9" y="2003.9" width="19" height="19" fill="#424242"/>
<rect x="1252" y="2003.9" width="19" height="19" fill="#424242"/>
<rect x="1263.1" y="2003.9" width="19" height="19" fill="#424242"/>
<rect x="1274.2" y="2003.9" width="19" height="19" fill="#424242"/>
<rect x="1285.3" y="2003.9" width="19" height="19" fill="#424242"/>
<rect x="1296.4" y="2003.9" width="19" height="19" fill="#424242"/>
<rect x="1307.4" y="2003.9" width="19" height="19" fill="#424242"/>
<rect x="1318.5" y="2003.9" width="19" height="19" fill="#424242"/>
<rect x="1329.6" y="1996.8" width="19" height="19" fill="#424242"/>
<rect x="1340.7" y="1996.8" width="19" height="19" fill="#424242"/>
<rect x="1296.4" y="2003.9" width="19" height="19" fill="#424242"/>
<rect x="1307.4" y="2003.9" width="19" height="19" fill="#424242"/>
<rect x="1318.5" y="2003.9" width="19" height="19" fill="#424242"/>
<rect x="1329.6" y="2003.9" width="19" height="19" fill="#424242"/>
<rect x="1340.7" y="2003.9" width="19" height="19" fill="#424242"/>
<rect x="1351.8" y="2003.9" width="19" height="19" fill="#424242"/>
<rect x="1362.9" y="2003.9" width="19" height="19" fill="#424242"/>
<rect x="1374" y="2003.9" width="19" height="19" fill="#424242"/>
<rect x="1385.1" y="2003.9" width="19" height="19" fill="#424242"/>
<rect x="1396.2" y="2003.9" width="19" height="19" fill="#424242"/>
<rect x="1407.3" y="2003.9" width="19" height="19" fill="#424242"/>
<rect x="1418.4" y="2003.9" width="19" height="19" fill="#424242"/>
<rect x="1429.5" y="2003.9" width="19" height="19" fill="#424242"/>
<rect x="1440.5" y="2003.9" width="19" height="19" fill="#424242"/>
<rect x="1451.6" y="2003.9" width="19" height="19" fill="#424242"/>
<rect x="1462.7" y="2003.9" width="19" height="19" fill="#424242"/>
<rect x="1473.8" y="2003.9" width="19" height="19" fill="#424242"/>
<rect x="1484.9" y="2003.9" width="19" height="19" fill="#424242"/>
<rect x="1496" y="2003.9" width="19" height="19" fill="#424242"/>
<circle cx="662.6" cy="1871.8" r="11" fill="#df3e3d"/>
<circle cx="673.7" cy="1871.8" r="11" fill="#df3e3d"/>
<circle cx="684.7" cy="1871.8" r="11" fill="#df3e3d"/>
<circle cx="695.8" cy="1871.8" r="11" fill="#df3e3d"/>
<circle cx="706.9" cy="1871.8" r="11" fill="#df3e3d"/>
<circle cx="718" cy="1871.8" r="11" fill="#df3e3d"/>
<circle cx="729.1" cy="1871.8" r="11" fill="#df3e3d"/>
<circle cx="740.2" cy="1871.8" r="11" fill="#df3e3d"/>
<circle cx="751.3" cy="1871.8" r="11" fill="#df3e3d"/>
<circle cx="762.4" cy="1871.8" r="11" fill="#df3e3d"/>
<circle cx="773.5" cy="1871.8" r="11" fill="#df3e3d"/>
<circle cx="784.6" cy="1871.8" r="11" fill="#df3e3d"/>
<circle cx="795.7" cy="1871.8" r="11" fill="#df3e3d"/>
<circle cx="806.8" cy="1871.8" r="11" fill="#df3e3d"/>
<circle cx="840" cy="1967" r="11" fill="#df3e3d"/>
<circle cx="906.6" cy="1967" r="11" fill="#df3e3d"/>
<circle cx="917.7" cy="1967" r="11" fill="#df3e3d"/>
<circle cx="928.8" cy="1967" r="11" fill="#df3e3d"/>
<circle cx="939.8" cy="1967" r="11" fill="#df3e3d"/>
<circle cx="950.9" cy="1967" r="11" fill="#df3e3d"/>
<circle cx="962" cy="1967" r="11" fill="#df3e3d"/>
<circle cx="973.1" cy="1967" r="11" fill="#df3e3d"/>
<circle cx="984.2" cy="1967" r="11" fill="#df3e3d"/>
<circle cx="995.3" cy="1967" r="11" fill="#df3e3d"/>
<circle cx="1006.4" cy="1967" r="11" fill="#df3e3d"/>
<circle cx="1017.5" cy="1967" r="11" fill="#df3e3d"/>
<circle cx="1028.6" cy="1967" r="11" fill="#df3e3d"/>
<circle cx="1061.8" cy="1921.8" r="11" fill="#df3e3d"/>
<circle cx="1316.9" cy="1967" r="11" fill="#df3e3d"/>
<circle cx="851.1" cy="2014.6" r="11" fill="#df3e3d"/>
<circle cx="1006.4" cy="2014.6" r="11" fill="#df3e3d"/>
<circle cx="1028.6" cy="2014.6" r="11" fill="#df3e3d"/>
<circle cx="1072.9" cy="2014.6" r="11" fill="#df3e3d"/>
<circle cx="1084" cy="2014.6" r="11" fill="#df3e3d"/>
<circle cx="1095.1" cy="2014.6" r="11" fill="#df3e3d"/>
<circle cx="1106.2" cy="2014.6" r="11" fill="#df3e3d"/>
<circle cx="1117.3" cy="2014.6" r="11" fill="#df3e3d"/>
<circle cx="1128.4" cy="2014.6" r="11" fill="#df3e3d"/>
<circle cx="1139.5" cy="2014.6" r="11" fill="#df3e3d"/>
<circle cx="1172.8" cy="2017" r="11" fill="#df3e3d"/>
<circle cx="1206" cy="2017" r="11" fill="#df3e3d"/>
<circle cx="1350.2" cy="2014.6" r="11" fill="#df3e3d"/>
<circle cx="817.8" cy="2059.8" r="11" fill="#df3e3d"/>
<circle cx="840" cy="2059.8" r="11" fill="#df3e3d"/>
<circle cx="1150.6" cy="2059.8" r="11" fill="#df3e3d"/>
<circle cx="1183.9" cy="2059.8" r="11" fill="#df3e3d"/>
<circle cx="1194.9" cy="2059.8" r="11" fill="#df3e3d"/>
<circle cx="1228.2" cy="2062.2" r="11" fill="#df3e3d"/>
<circle cx="1239.3" cy="2062.2" r="11" fill="#df3e3d"/>
<circle cx="1250.4" cy="2062.2" r="11" fill="#df3e3d"/>
<circle cx="1261.5" cy="2062.2" r="11" fill="#df3e3d"/>
<circle cx="1272.6" cy="2062.2" r="11" fill="#df3e3d"/>
<circle cx="1283.7" cy="2062.2" r="11" fill="#df3e3d"/>
<circle cx="1294.8" cy="2062.2" r="11" fill="#df3e3d"/>
<circle cx="1305.9" cy="2062.2" r="11" fill="#df3e3d"/>
<circle cx="1316.9" cy="2062.2" r="11" fill="#df3e3d"/>
<circle cx="1328" cy="2062.2" r="11" fill="#df3e3d"/>
<circle cx="1339.1" cy="2062.2" r="11" fill="#df3e3d"/>
<circle cx="1350.2" cy="2062.2" r="11" fill="#df3e3d"/>
<circle cx="1361.3" cy="2062.2" r="11" fill="#df3e3d"/>
<circle cx="1372.4" cy="2062.2" r="11" fill="#df3e3d"/>
<circle cx="1383.5" cy="2062.2" r="11" fill="#df3e3d"/>
<circle cx="1394.6" cy="2062.2" r="11" fill="#df3e3d"/>
<circle cx="1405.7" cy="2062.2" r="11" fill="#df3e3d"/>
<circle cx="1416.8" cy="2062.2" r="11" fill="#df3e3d"/>
<circle cx="1427.9" cy="2062.2" r="11" fill="#df3e3d"/>
<circle cx="1439" cy="2062.2" r="11" fill="#df3e3d"/>
<circle cx="1450" cy="2062.2" r="11" fill="#df3e3d"/>
<circle cx="1461.1" cy="2062.2" r="11" fill="#df3e3d"/>
<circle cx="1472.2" cy="2062.2" r="11" fill="#df3e3d"/>
<circle cx="1483.3" cy="2062.2" r="11" fill="#df3e3d"/>
<circle cx="1494.4" cy="2062.2" r="11" fill="#df3e3d"/>
<circle cx="1505.5" cy="2062.2" r="11" fill="#df3e3d"/>
<path d="M618.2 1955.8L630.7 1978.2L605.7 1978.2Z" fill="#2968c0"/>
<path d="M629.3 1955.8L641.8 1978.2L616.8 1978.2Z" fill="#2968c0"/>
<path d="M640.4 1955.8L652.9 1978.2L627.9 1978.2Z" fill="#2968c0"/>
<path d="M651.5 1955.8L664 1978.2L639 1978.2Z" fill="#2968c0"/>
<path d="M729.1 1808.2L741.6 1830.7L716.6 1830.7Z" fill="#2968c0"/>
<path d="M740.2 1808.2L752.7 1830.7L727.7 1830.7Z" fill="#2968c0"/>
<path d="M751.3 1808.2L763.8 1830.7L738.8 1830.7Z" fill="#2968c0"/>
<path d="M762.4 1808.2L774.9 1830.7L749.9 1830.7Z" fill="#2968c0"/>
<path d="M773.5 1808.2L786 1830.7L761 1830.7Z" fill="#2968c0"/>
<path d="M784.6 1808.2L797.1 1830.7L772.1 1830.7Z" fill="#2968c0"/>
<path d="M851.1 1951L863.6 1973.5L838.6 1973.5Z" fill="#2968c0"/>
<path d="M862.2 1951L874.7 1973.5L849.7 1973.5Z" fill="#2968c0"/>
<path d="M873.3 1951L885.8 1973.5L860.8 1973.5Z" fill="#2968c0"/>
<path d="M884.4 1951L896.9 1973.5L871.9 1973.5Z" fill="#2968c0"/>
<path d="M895.5 1951L908 1973.5L883 1973.5Z" fill="#2968c0"/>
<path d="M906.6 1951L919.1 1973.5L894.1 1973.5Z" fill="#2968c0"/>
<path d="M917.7 1951L930.2 1973.5L905.2 1973.5Z" fill="#2968c0"/>
<path d="M1028.6 1951L1041.1 1973.5L1016.1 1973.5Z" fill="#2968c0"/>
<path d="M1039.7 1951L1052.2 1973.5L1027.2 1973.5Z" fill="#2968c0"/>
<path d="M1050.8 1951L1063.3 1973.5L1038.3 1973.5Z" fill="#2968c0"/>
<path d="M1061.8 1951L1074.3 1973.5L1049.3 1973.5Z" fill="#2968c0"/>
<path d="M1072.9 1951L1085.4 1973.5L1060.4 1973.5Z" fill="#2968c0"/>
<path d="M1084 1951L1096.5 1973.5L1071.5 1973.5Z" fill="#2968c0"/>
<path d="M1095.1 1951L1107.6 1973.5L1082.6 1973.5Z" fill="#2968c0"/>
<path d="M1106.2 1951L1118.7 1973.5L1093.7 1973.5Z" fill="#2968c0"/>
<path d="M1117.3 1951L1129.8 1973.5L1104.8 1973.5Z" fill="#2968c0"/>
<path d="M1128.4 1951L1140.9 1973.5L1115.9 1973.5Z" fill="#2968c0"/>
<path d="M1139.5 1951L1152 1973.5L1127 1973.5Z" fill="#2968c0"/>
<path d="M1150.6 1951L1163.1 1973.5L1138.1 1973.5Z" fill="#2968c0"/>
<path d="M1161.7 1951L1174.2 1973.5L1149.2 1973.5Z" fill="#2968c0"/>
<path d="M1172.8 1951L1185.3 1973.5L1160.3 1973.5Z" fill="#2968c0"/>
<path d="M1183.9 1951L1196.4 1973.5L1171.4 1973.5Z" fill="#2968c0"/>
<path d="M1194.9 1951L1207.4 1973.5L1182.4 1973.5Z" fill="#2968c0"/>
<path d="M1206 1951L1218.5 1973.5L1193.5 1973.5Z" fill="#2968c0"/>
<path d="M1217.1 1951L1229.6 1973.5L1204.6 1973.5Z" fill="#2968c0"/>
<path d="M1228.2 1951L1240.7 1973.5L1215.7 1973.5Z" fill="#2968c0"/>
<path d="M1328 1952.2L1340.5 1974.7L1315.5 1974.7Z" fill="#2968c0"/>
<path d="M1339.1 1952.2L1351.6 1974.7L1326.6 1974.7Z" fill="#2968c0"/>
<path d="M917.7 2024.8L930.2 2047.3L905.2 2047.3Z" fill="#2968c0"/>
<path d="M928.8 2024.8L941.3 2047.3L916.3 2047.3Z" fill="#2968c0"/>
<path d="M939.8 2024.8L952.3 2047.3L927.3 2047.3Z" fill="#2968c0"/>
<path d="M950.9 2024.8L963.4 2047.3L938.4 2047.3Z" fill="#2968c0"/>
<path d="M962 2024.8L974.5 2047.3L949.5 2047.3Z" fill="#2968c0"/>
<path d="M973.1 2024.8L985.6 2047.3L960.6 2047.3Z" fill="#2968c0"/>
<path d="M984.2 2024.8L996.7 2047.3L971.7 2047.3Z" fill="#2968c0"/>
<path d="M995.3 2024.8L1007.8 2047.3L982.8 2047.3Z" fill="#2968c0"/>
<path d="M1006.4 2024.8L1018.9 2047.3L993.9 2047.3Z" fill="#2968c0"/>
<path d="M1017.5 2024.8L1030 2047.3L1005 2047.3Z" fill="#2968c0"/>
<path d="M1028.6 2024.8L1041.1 2047.3L1016.1 2047.3Z" fill="#2968c0"/>
<path d="M1072.9 2024.8L1085.4 2047.3L1060.4 2047.3Z" fill="#2968c0"/>
<path d="M1128.4 2024.8L1140.9 2047.3L1115.9 2047.3Z" fill="#2968c0"/>
<path d="M1161.7 2024.8L1174.2 2047.3L1149.2 2047.3Z" fill="#2968c0"/>
<path d="M1350.2 2022.4L1362.7 2044.9L1337.7 2044.9Z" fill="#2968c0"/>
<path d="M1372.4 2022.4L1384.9 2044.9L1359.9 2044.9Z" fill="#2968c0"/>
<path d="M1383.5 2024.8L1396 2047.3L1371 2047.3Z" fill="#2968c0"/>
<path d="M662.6 2095L675.1 2117.5L650.1 2117.5Z" fill="#2968c0"/>
<path d="M684.7 2095L697.2 2117.5L672.2 2117.5Z" fill="#2968c0"/>
<path d="M695.8 2095L708.3 2117.5L683.3 2117.5Z" fill="#2968c0"/>
<path d="M706.9 2095L719.4 2117.5L694.4 2117.5Z" fill="#2968c0"/>
<path d="M718 2095L730.5 2117.5L705.5 2117.5Z" fill="#2968c0"/>
<path d="M795.7 2095L808.2 2117.5L783.2 2117.5Z" fill="#2968c0"/>
<path d="M806.8 2095L819.3 2117.5L794.3 2117.5Z" fill="#2968c0"/>
<path d="M817.8 2095L830.3 2117.5L805.3 2117.5Z" fill="#2968c0"/>
<path d="M828.9 2095L841.4 2117.5L816.4 2117.5Z" fill="#2968c0"/>
<path d="M840 2095L852.5 2117.5L827.5 2117.5Z" fill="#2968c0"/>
<path d="M1228.2 2095L1240.7 2117.5L1215.7 2117.5Z" fill="#2968c0"/>
<path d="M1239.3 2095L1251.8 2117.5L1226.8 2117.5Z" fill="#2968c0"/>
<path d="M1250.4 2095L1262.9 2117.5L1237.9 2117.5Z" fill="#2968c0"/>
<path d="M1261.5 2095L1274 2117.5L1249 2117.5Z" fill="#2968c0"/>
<path d="M1272.6 2095L1285.1 2117.5L1260.1 2117.5Z" fill="#2968c0"/>
<path d="M1283.7 2095L1296.2 2117.5L1271.2 2117.5Z" fill="#2968c0"/>
<path d="M1294.8 2095L1307.3 2117.5L1282.3 2117.5Z" fill="#2968c0"/>
<path d="M1305.9 2095L1318.4 2117.5L1293.4 2117.5Z" fill="#2968c0"/>
<path d="M1316.9 2095L1329.4 2117.5L1304.4 2117.5Z" fill="#2968c0"/>
<path d="M1383.5 2108.1L1396 2130.6L1371 2130.6Z" fill="#2968c0"/>
<path d="M1394.6 2095L1407.1 2117.5L1382.1 2117.5Z" fill="#2968c0"/>
<path d="M1405.7 2095L1418.2 2117.5L1393.2 2117.5Z" fill="#2968c0"/>
<path d="M1416.8 2095L1429.3 2117.5L1404.3 2117.5Z" fill="#2968c0"/>
<path d="M1427.9 2095L1440.4 2117.5L1415.4 2117.5Z" fill="#2968c0"/>
<path d="M1439 2095L1451.5 2117.5L1426.5 2117.5Z" fill="#2968c0"/>
<path d="M1450 2095L1462.5 2117.5L1437.5 2117.5Z" fill="#2968c0"/>
<path d="M1461.1 2095L1473.6 2117.5L1448.6 2117.5Z" fill="#2968c0"/>
<path d="M1472.2 2095L1484.7 2117.5L1459.7 2117.5Z" fill="#2968c0"/>
<path d="M1483.3 2095L1495.8 2117.5L1470.8 2117.5Z" fill="#2968c0"/>
<path d="M1494.4 2095L1506.9 2117.5L1481.9 2117.5Z" fill="#2968c0"/>
<path d="M1505.5 2095L1518 2117.5L1493 2117.5Z" fill="#2968c0"/>
<path d="M673.7 2168.8L686.2 2191.3L661.2 2191.3Z" fill="#2968c0"/>
<path d="M683.3 1791.5L708.3 1791.5L695.8 1814Z" fill="#3fa16b"/>
<path d="M639 1885.5L664 1885.5L651.5 1908Z" fill="#3fa16b"/>
<path d="M650.1 1885.5L675.1 1885.5L662.6 1908Z" fill="#3fa16b"/>
<path d="M661.2 1885.5L686.2 1885.5L673.7 1908Z" fill="#3fa16b"/>
<path d="M672.2 1885.5L697.2 1885.5L684.7 1908Z" fill="#3fa16b"/>
<path d="M683.3 1885.5L708.3 1885.5L695.8 1908Z" fill="#3fa16b"/>
<path d="M694.4 1885.5L719.4 1885.5L706.9 1908Z" fill="#3fa16b"/>
<path d="M705.5 1885.5L730.5 1885.5L718 1908Z" fill="#3fa16b"/>
<path d="M716.6 1885.5L741.6 1885.5L729.1 1908Z" fill="#3fa16b"/>
<path d="M727.7 1885.5L752.7 1885.5L740.2 1908Z" fill="#3fa16b"/>
<path d="M738.8 1885.5L763.8 1885.5L751.3 1908Z" fill="#3fa16b"/>
<path d="M749.9 1885.5L774.9 1885.5L762.4 1908Z" fill="#3fa16b"/>
<path d="M761 1885.5L786 1885.5L773.5 1908Z" fill="#3fa16b"/>
<path d="M772.1 1885.5L797.1 1885.5L784.6 1908Z" fill="#3fa16b"/>
<path d="M616.8 1979.5L641.8 1979.5L629.3 2002Z" fill="#3fa16b"/>
<path d="M627.9 1979.5L652.9 1979.5L640.4 2002Z" fill="#3fa16b"/>
<path d="M639 1979.5L664 1979.5L651.5 2002Z" fill="#3fa16b"/>
<path d="M805.3 1959.3L830.3 1959.3L817.8 1981.8Z" fill="#3fa16b"/>
<path d="M816.4 1959.3L841.4 1959.3L828.9 1981.8Z" fill="#3fa16b"/>
<path d="M827.5 1959.3L852.5 1959.3L840 1981.8Z" fill="#3fa16b"/>
<path d="M838.6 1959.3L863.6 1959.3L851.1 1981.8Z" fill="#3fa16b"/>
<path d="M849.7 1959.3L874.7 1959.3L862.2 1981.8Z" fill="#3fa16b"/>
<path d="M860.8 1959.3L885.8 1959.3L873.3 1981.8Z" fill="#3fa16b"/>
<path d="M871.9 1959.3L896.9 1959.3L884.4 1981.8Z" fill="#3fa16b"/>
<path d="M883 1959.3L908 1959.3L895.5 1981.8Z" fill="#3fa16b"/>
<path d="M894.1 1959.3L919.1 1959.3L906.6 1981.8Z" fill="#3fa16b"/>
<path d="M905.2 1959.3L930.2 1959.3L917.7 1981.8Z" fill="#3fa16b"/>
<path d="M960.6 1955.8L985.6 1955.8L973.1 1978.2Z" fill="#3fa16b"/>
<path d="M1104.8 1955.8L1129.8 1955.8L1117.3 1978.2Z" fill="#3fa16b"/>
<path d="M1115.9 1955.8L1140.9 1955.8L1128.4 1978.2Z" fill="#3fa16b"/>
<path d="M1127 1955.8L1152 1955.8L1139.5 1978.2Z" fill="#3fa16b"/>
<path d="M1138.1 1955.8L1163.1 1955.8L1150.6 1978.2Z" fill="#3fa16b"/>
<path d="M1149.2 1955.8L1174.2 1955.8L1161.7 1978.2Z" fill="#3fa16b"/>
<path d="M1160.3 1955.8L1185.3 1955.8L1172.8 1978.2Z" fill="#3fa16b"/>
<path d="M1171.4 1955.8L1196.4 1955.8L1183.9 1978.2Z" fill="#3fa16b"/>
<path d="M1182.4 1955.8L1207.4 1955.8L1194.9 1978.2Z" fill="#3fa16b"/>
<path d="M1193.5 1955.8L1218.5 1955.8L1206 1978.2Z" fill="#3fa16b"/>
<path d="M1204.6 1955.8L1229.6 1955.8L1217.1 1978.2Z" fill="#3fa16b"/>
<path d="M1215.7 1955.8L1240.7 1955.8L1228.2 1978.2Z" fill="#3fa16b"/>
<path d="M1226.8 1955.8L1251.8 1955.8L1239.3 1978.2Z" fill="#3fa16b"/>
<path d="M1237.9 1955.8L1262.9 1955.8L1250.4 1978.2Z" fill="#3fa16b"/>
<path d="M1071.5 1973.6L1096.5 1973.6L1084 1996.1Z" fill="#3fa16b"/>
<path d="M1082.6 1977.2L1107.6 1977.2L1095.1 1999.7Z" fill="#3fa16b"/>
<path d="M1204.6 1981.9L1229.6 1981.9L1217.1 2004.4Z" fill="#3fa16b"/>
<path d="M871.9 2078.3L896.9 2078.3L884.4 2100.8Z" fill="#3fa16b"/>
<path d="M982.8 2078.3L1007.8 2078.3L995.3 2100.8Z" fill="#3fa16b"/>
<path d="M1027.2 2074.8L1052.2 2074.8L1039.7 2097.2Z" fill="#3fa16b"/>
<path d="M1127 2078.3L1152 2078.3L1139.5 2100.8Z" fill="#3fa16b"/>
<path d="M1215.7 2077.1L1240.7 2077.1L1228.2 2099.6Z" fill="#3fa16b"/>
<path d="M1226.8 2077.1L1251.8 2077.1L1239.3 2099.6Z" fill="#3fa16b"/>
<path d="M1237.9 2077.1L1262.9 2077.1L1250.4 2099.6Z" fill="#3fa16b"/>
<path d="M1249 2077.1L1274 2077.1L1261.5 2099.6Z" fill="#3fa16b"/>
<path d="M1260.1 2077.1L1285.1 2077.1L1272.6 2099.6Z" fill="#3fa16b"/>
<path d="M1271.2 2077.1L1296.2 2077.1L1283.7 2099.6Z" fill="#3fa16b"/>
<path d="M794.3 2172.3L819.3 2172.3L806.8 2194.8Z" fill="#3fa16b"/>
<path d="M816.4 2172.3L841.4 2172.3L828.9 2194.8Z" fill="#3fa16b"/>
<path d="M827.5 2172.3L852.5 2172.3L840 2194.8Z" fill="#3fa16b"/>
<path d="M838.6 2172.3L863.6 2172.3L851.1 2194.8Z" fill="#3fa16b"/>
<path d="M905.2 2172.3L930.2 2172.3L917.7 2194.8Z" fill="#3fa16b"/>
<path d="M916.3 2172.3L941.3 2172.3L928.8 2194.8Z" fill="#3fa16b"/>
<path d="M927.3 2172.3L952.3 2172.3L939.8 2194.8Z" fill="#3fa16b"/>
<path d="M938.4 2172.3L963.4 2172.3L950.9 2194.8Z" fill="#3fa16b"/>
<path d="M949.5 2172.3L974.5 2172.3L962 2194.8Z" fill="#3fa16b"/>
<path d="M960.6 2172.3L985.6 2172.3L973.1 2194.8Z" fill="#3fa16b"/>
<path d="M993.9 2172.3L1018.9 2172.3L1006.4 2194.8Z" fill="#3fa16b"/>
<path d="M1005 2172.3L1030 2172.3L1017.5 2194.8Z" fill="#3fa16b"/>
<path d="M1016.1 2172.3L1041.1 2172.3L1028.6 2194.8Z" fill="#3fa16b"/>
<path d="M1038.3 2172.3L1063.3 2172.3L1050.8 2194.8Z" fill="#3fa16b"/>
<path d="M1093.7 2169.9L1118.7 2169.9L1106.2 2192.4Z" fill="#3fa16b"/>
<path d="M1104.8 2169.9L1129.8 2169.9L1117.3 2192.4Z" fill="#3fa16b"/>
<path d="M1193.5 2172.3L1218.5 2172.3L1206 2194.8Z" fill="#3fa16b"/>
<path d="M1282.3 2172.3L1307.3 2172.3L1294.8 2194.8Z" fill="#3fa16b"/>
<path d="M1293.4 2172.3L1318.4 2172.3L1305.9 2194.8Z" fill="#3fa16b"/>
<path d="M1304.4 2172.3L1329.4 2172.3L1316.9 2194.8Z" fill="#3fa16b"/>
<path d="M1315.5 2172.3L1340.5 2172.3L1328 2194.8Z" fill="#3fa16b"/>
<path d="M1326.6 2172.3L1351.6 2172.3L1339.1 2194.8Z" fill="#3fa16b"/>
<path d="M1337.7 2172.3L1362.7 2172.3L1350.2 2194.8Z" fill="#3fa16b"/>
<path d="M783.2 2267.5L808.2 2267.5L795.7 2290Z" fill="#3fa16b"/>
<path d="M894.1 2267.5L919.1 2267.5L906.6 2290Z" fill="#3fa16b"/>
<path d="M971.7 2267.5L996.7 2267.5L984.2 2290Z" fill="#3fa16b"/>
<path d="M1049.3 2267.5L1074.3 2267.5L1061.8 2290Z" fill="#3fa16b"/>
<path d="M1060.4 2271.1L1085.4 2271.1L1072.9 2293.6Z" fill="#3fa16b"/>
<path d="M1071.5 2274.7L1096.5 2274.7L1084 2297.2Z" fill="#3fa16b"/>
<path d="M1337.7 2267.5L1362.7 2267.5L1350.2 2290Z" fill="#3fa16b"/>
<path d="M1348.8 2267.5L1373.8 2267.5L1361.3 2290Z" fill="#3fa16b"/>
<path d="M1359.9 2267.5L1384.9 2267.5L1372.4 2290Z" fill="#3fa16b"/>
<path d="M1371 2267.5L1396 2267.5L1383.5 2290Z" fill="#3fa16b"/>
<path d="M1382.1 2267.5L1407.1 2267.5L1394.6 2290Z" fill="#3fa16b"/>
<path d="M1393.2 2267.5L1418.2 2267.5L1405.7 2290Z" fill="#3fa16b"/>
<path d="M1404.3 2267.5L1429.3 2267.5L1416.8 2290Z" fill="#3fa16b"/>
<path d="M1415.4 2267.5L1440.4 2267.5L1427.9 2290Z" fill="#3fa16b"/>
<path d="M1426.5 2267.5L1451.5 2267.5L1439 2290Z" fill="#3fa16b"/>
<path d="M1437.5 2267.5L1462.5 2267.5L1450 2290Z" fill="#3fa16b"/>
<path d="M1448.6 2267.5L1473.6 2267.5L1461.1 2290Z" fill="#3fa16b"/>
<path d="M1459.7 2267.5L1484.7 2267.5L1472.2 2290Z" fill="#3fa16b"/>
<path d="M1470.8 2267.5L1495.8 2267.5L1483.3 2290Z" fill="#3fa16b"/>
<path d="M1481.9 2267.5L1506.9 2267.5L1494.4 2290Z" fill="#3fa16b"/>
<path d="M1493 2267.5L1518 2267.5L1505.5 2290Z" fill="#3fa16b"/>
</g>
<path d="M618.2 2324v13M618.2 1610v13M840 2324v13M840 1610v13M1061.8 2324v13M1061.8 1610v13M1283.7 2324v13M1283.7 1610v13M1505.5 2324v13M1505.5 1610v13M729.1 2324v7M729.1 1610v7M950.9 2324v7M950.9 1610v7M1172.8 2324v7M1172.8 1610v7M1394.6 2324v7M1394.6 1610v7M618.2 2324h-13M1505.5 2324h-13M618.2 2205h-13M1505.5 2205h-13M618.2 2086h-13M1505.5 2086h-13M618.2 1967h-13M1505.5 1967h-13M618.2 1848h-13M1505.5 1848h-13M618.2 1729h-13M1505.5 1729h-13M618.2 1610h-13M1505.5 1610h-13M618.2 2264.5h-7M1505.5 2264.5h-7M618.2 2145.5h-7M1505.5 2145.5h-7M618.2 2026.5h-7M1505.5 2026.5h-7M618.2 1907.5h-7M1505.5 1907.5h-7M618.2 1788.5h-7M1505.5 1788.5h-7M618.2 1669.5h-7M1505.5 1669.5h-7" stroke="#111" stroke-width="2.6" fill="none"/>
<path d="M618.2 1610H1505.5" stroke="#777" stroke-width="2.6" fill="none" stroke-linecap="square"/>
<path d="M618.2 1610V2324H1505.5V1610" stroke="#111" stroke-width="2.6" fill="none" stroke-linecap="square"/>
<text x="618.2" y="2376" text-anchor="middle" font-size="34">0.0</text>
<text x="840" y="2376" text-anchor="middle" font-size="34">0.2</text>
<text x="1061.8" y="2376" text-anchor="middle" font-size="34">0.4</text>
<text x="1283.7" y="2376" text-anchor="middle" font-size="34">0.6</text>
<text x="1505.5" y="2376" text-anchor="middle" font-size="34">0.8</text>
<text x="595.2" y="2336.2" text-anchor="end" font-size="34">-3</text>
<text x="595.2" y="2217.2" text-anchor="end" font-size="34">-2</text>
<text x="595.2" y="2098.2" text-anchor="end" font-size="34">-1</text>
<text x="595.2" y="1979.2" text-anchor="end" font-size="34">0</text>
<text x="595.2" y="1860.2" text-anchor="end" font-size="34">1</text>
<text x="595.2" y="1741.2" text-anchor="end" font-size="34">2</text>
<text x="595.2" y="1622.2" text-anchor="end" font-size="34">3</text>
<text transform="translate(538 1947) rotate(-90)" text-anchor="middle" font-size="66">Frequency Shift (GHz)</text>
<rect x="1230.8" y="1714.3" width="237.4" height="64.8" fill="#000"/>
<rect x="1221.3" y="1704.8" width="237.4" height="64.8" fill="#fff" stroke="#555" stroke-width="1.6"/>
<text x="1228.2" y="1755.1" font-size="42.5"><tspan style="font-family:'Liberation Serif', 'Times New Roman', serif">Δ</tspan>f = 0 GHz</text>
<text x="629.6" y="2295.5" font-size="80" style="font-family:'Liberation Serif', 'Times New Roman', serif">(e)</text>
<text x="660" y="2450.7" font-size="90" style="font-family:'Liberation Serif', 'Times New Roman', serif">Injection level (ar. un.)</text>
</svg>
</body></html>
